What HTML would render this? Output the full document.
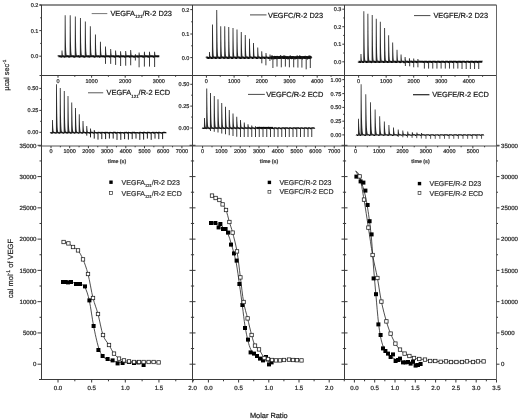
<!DOCTYPE html>
<html><head><meta charset="utf-8"><title>ITC</title>
<style>
html,body{margin:0;padding:0;background:#fff;}
body{width:520px;height:420px;overflow:hidden;font-family:"Liberation Sans",sans-serif;}
svg{display:block;}
text{font-family:"Liberation Sans",sans-serif;text-rendering:geometricPrecision;}
</style></head><body>
<svg width="520" height="420" viewBox="0 0 520 420">
<rect width="520" height="420" fill="#fff"/>
<defs><filter id="bl" x="0" y="0" width="100%" height="100%" filterUnits="userSpaceOnUse"><feGaussianBlur stdDeviation="0.35"/></filter></defs>
<g filter="url(#bl)"><path d="M58.40,56.30 L58.40,56.26 L58.80,56.23 L59.20,56.33 L59.60,56.21 L60.00,56.31 L60.40,56.27 L60.80,56.61 L61.20,56.70 L61.60,56.61 L62.00,56.29 L62.40,56.21 L62.80,56.22 L63.20,56.28 L63.60,56.37 L64.00,56.62 L64.40,56.64 L64.80,56.73 L65.20,56.39 L65.60,56.32 L66.00,56.28 L66.40,56.40 L66.80,56.21 L67.20,56.37 L67.60,56.26 L68.00,56.23 L68.40,56.22 L68.80,56.66 L69.20,56.76 L69.60,56.64 L70.00,56.32 L70.40,56.33 L70.80,56.27 L71.20,56.31 L71.60,56.21 L72.00,56.21 L72.40,56.24 L72.80,56.34 L73.20,56.29 L73.60,56.26 L74.00,56.72 L74.40,56.69 L74.80,56.66 L75.20,56.36 L75.60,56.34 L76.00,56.25 L76.40,56.31 L76.80,56.31 L77.20,56.38 L77.60,56.35 L78.00,56.26 L78.40,56.40 L78.80,56.22 L79.20,56.68 L79.60,56.75 L80.00,56.63 L80.40,56.30 L80.80,56.21 L81.20,56.33 L81.60,56.35 L82.00,56.31 L82.40,56.38 L82.80,56.26 L83.20,56.34 L83.60,56.32 L84.00,56.72 L84.40,56.69 L84.80,56.77 L85.20,56.39 L85.60,56.29 L86.00,56.33 L86.40,56.21 L86.80,56.34 L87.20,56.33 L87.60,56.40 L88.00,56.36 L88.40,56.26 L88.80,56.28 L89.20,56.73 L89.60,56.60 L90.00,56.29 L90.40,56.23 L90.80,56.22 L91.20,56.21 L91.60,56.35 L92.00,56.23 L92.40,56.25 L92.80,56.28 L93.20,56.37 L93.60,56.22 L94.00,56.69 L94.40,56.71 L94.80,56.78 L95.20,56.36 L95.60,56.37 L96.00,56.26 L96.40,56.28 L96.80,56.27 L97.20,56.38 L97.60,56.39 L98.00,56.23 L98.40,56.24 L98.80,56.25 L99.20,56.65 L99.60,56.70 L100.00,56.72 L100.40,56.25 L100.80,56.20 L101.20,56.28 L101.60,56.27 L102.00,56.31 L102.40,56.39 L102.80,56.34 L103.20,56.30 L103.60,56.32 L104.00,56.34 L104.40,56.61 L104.80,56.78 L105.20,56.36 L105.60,56.37 L106.00,56.36 L106.40,56.28 L106.80,56.28 L107.20,56.22 L107.60,56.33 L108.00,56.21 L108.40,56.21 L108.80,56.24 L109.20,56.23 L109.60,56.67 L110.00,56.61 L110.40,56.20 L110.80,56.23 L111.20,56.22 L111.60,56.27 L112.00,56.21 L112.40,56.37 L112.80,56.32 L113.20,56.23 L113.60,56.25 L114.00,56.27 L114.40,56.67 L114.80,56.62 L115.20,56.77 L115.60,56.40 L116.00,56.29 L116.40,56.30 L116.80,56.22 L117.20,56.22 L117.60,56.27 L118.00,56.25 L118.40,56.37 L118.80,56.23 L119.20,56.60 L119.60,56.79 L120.00,56.71 L120.40,56.23 L120.80,56.31 L121.20,56.21 L121.60,56.31 L122.00,56.40 L122.40,56.37 L122.80,56.34 L123.20,56.25 L123.60,56.27 L124.00,56.23 L124.40,56.75 L124.80,56.71 L125.20,56.76 L125.60,56.27 L126.00,56.24 L126.40,56.36 L126.80,56.40 L127.20,56.37 L127.60,56.36 L128.00,56.36 L128.40,56.35 L128.80,56.25 L129.20,56.30 L129.60,56.67 L130.00,56.61 L130.40,56.21 L130.80,56.26 L131.20,56.25 L131.60,56.34 L132.00,56.39 L132.40,56.29 L132.80,56.39 L133.20,56.40 L133.60,56.39 L134.00,56.67 L134.40,56.64 L134.80,56.65 L135.20,56.24 L135.60,56.24 L136.00,56.32 L136.40,56.38 L136.80,56.37 L137.20,56.30 L137.60,56.33 L138.00,56.76 L138.40,56.62 L138.80,56.33 L139.20,56.38 L139.60,56.36 L140.00,56.35 L140.40,56.30 L140.80,56.24 L141.20,56.36 L141.60,56.27 L142.00,56.36 L142.40,56.39 L142.80,56.28 L143.20,56.68 L143.60,56.79 L144.00,56.74 L144.40,56.23 L144.80,56.23 L145.20,56.23 L145.60,56.38 L146.00,56.36 L146.40,56.23 L146.80,56.37 L147.20,56.40 L147.60,56.33 L148.00,56.27 L148.40,56.71 L148.80,56.63 L149.20,56.20 L149.60,56.39 L150.00,56.33 L150.40,56.31 L150.80,56.39 L151.20,56.29 L151.60,56.37 L152.00,56.37 L152.40,56.24 L152.80,56.25 L153.20,56.66 L153.60,56.65 L154.00,56.72 L154.40,56.25 L154.80,56.28 L155.20,56.23 L155.60,56.38 L156.00,56.27 L156.40,56.29 L156.80,56.32 L157.20,56.38 L157.60,56.28 L158.00,56.38 L158.40,56.30 L158.80,56.31 L159.20,56.30 L159.30,56.30" fill="none" stroke="#111" stroke-width="2.0" stroke-linejoin="round"/><path d="M61.43,56.30 L61.58,50.50 L62.42,50.50 L62.57,52.78 L62.72,54.17 L62.88,55.01 L63.02,55.52 L63.17,55.82 L63.32,56.01 L63.47,56.12 L63.62,56.19 L63.77,56.24 L63.92,56.26 L64.08,56.28 L64.08,56.30 Z" fill="#2b2b2b"/><path d="M64.58,56.30 L64.73,15.20 L65.58,15.20 L65.73,31.37 L65.88,41.18 L66.03,47.13 L66.17,50.74 L66.33,52.93 L66.48,54.25 L66.62,55.06 L66.78,55.55 L66.92,55.84 L67.08,56.02 L67.23,56.13 L67.23,56.30 Z" fill="#2b2b2b"/><path d="M69.62,56.30 L69.78,15.20 L70.62,15.20 L70.78,31.37 L70.92,41.18 L71.08,47.13 L71.22,50.74 L71.38,52.93 L71.53,54.25 L71.67,55.06 L71.83,55.55 L71.97,55.84 L72.12,56.02 L72.28,56.13 L72.28,56.30 Z" fill="#2b2b2b"/><path d="M74.72,56.30 L74.88,16.60 L75.72,16.60 L75.88,32.22 L76.02,41.70 L76.17,47.44 L76.32,50.93 L76.47,53.04 L76.62,54.32 L76.77,55.10 L76.92,55.57 L77.07,55.86 L77.22,56.03 L77.38,56.14 L77.38,56.30 Z" fill="#2b2b2b"/><path d="M79.83,56.30 L79.98,18.10 L80.83,18.10 L80.98,33.13 L81.12,42.25 L81.28,47.78 L81.42,51.13 L81.58,53.16 L81.73,54.40 L81.88,55.15 L82.03,55.60 L82.17,55.88 L82.33,56.04 L82.48,56.14 L82.48,56.30 Z" fill="#2b2b2b"/><path d="M84.72,56.30 L84.88,21.50 L85.72,21.50 L85.88,35.19 L86.02,43.50 L86.17,48.54 L86.32,51.59 L86.47,53.44 L86.62,54.57 L86.77,55.25 L86.92,55.66 L87.07,55.91 L87.22,56.07 L87.38,56.16 L87.38,56.30 Z" fill="#2b2b2b"/><path d="M89.72,56.30 L89.88,26.20 L90.72,26.20 L90.88,38.04 L91.02,45.23 L91.17,49.58 L91.32,52.23 L91.47,53.83 L91.62,54.80 L91.77,55.39 L91.92,55.75 L92.07,55.97 L92.22,56.10 L92.38,56.18 L92.38,56.30 Z" fill="#2b2b2b"/><path d="M94.83,56.30 L94.98,34.60 L95.83,34.60 L95.98,43.14 L96.12,48.32 L96.28,51.46 L96.42,53.36 L96.58,54.52 L96.73,55.22 L96.88,55.64 L97.03,55.90 L97.17,56.06 L97.33,56.15 L97.48,56.21 L97.48,56.30 Z" fill="#2b2b2b"/><path d="M99.83,56.30 L99.98,41.70 L100.83,41.70 L100.98,47.44 L101.12,50.93 L101.28,53.04 L101.42,54.32 L101.58,55.10 L101.73,55.57 L101.88,55.86 L102.03,56.03 L102.17,56.14 L102.33,56.20 L102.48,56.24 L102.48,56.30 Z" fill="#2b2b2b"/><path d="M104.92,56.30 L105.08,46.40 L105.92,46.40 L106.08,50.30 L106.22,52.66 L106.38,54.09 L106.52,54.96 L106.67,55.49 L106.83,55.81 L106.97,56.00 L107.12,56.12 L107.27,56.19 L107.42,56.23 L107.58,56.26 L107.58,56.30 Z" fill="#2b2b2b"/><path d="M110.12,56.30 L110.28,49.10 L111.12,49.10 L111.28,51.93 L111.42,53.65 L111.58,54.69 L111.72,55.33 L111.88,55.71 L112.03,55.94 L112.17,56.08 L112.33,56.17 L112.47,56.22 L112.62,56.25 L112.78,56.27 L112.78,56.30 Z" fill="#2b2b2b"/><path d="M115.02,56.30 L115.17,50.50 L116.02,50.50 L116.17,52.78 L116.32,54.17 L116.47,55.01 L116.62,55.52 L116.77,55.82 L116.92,56.01 L117.07,56.12 L117.22,56.19 L117.37,56.24 L117.52,56.26 L117.67,56.28 L117.67,56.30 Z" fill="#2b2b2b"/><path d="M120.02,56.30 L120.17,51.20 L121.02,51.20 L121.17,53.21 L121.32,54.42 L121.47,55.16 L121.62,55.61 L121.77,55.88 L121.92,56.05 L122.07,56.15 L122.22,56.21 L122.37,56.24 L122.52,56.27 L122.67,56.28 L122.67,56.30 Z" fill="#2b2b2b"/><path d="M125.12,56.30 L125.28,50.90 L126.12,50.90 L126.28,53.02 L126.42,54.31 L126.58,55.10 L126.72,55.57 L126.88,55.86 L127.03,56.03 L127.17,56.14 L127.33,56.20 L127.47,56.24 L127.62,56.26 L127.78,56.28 L127.78,56.30 Z" fill="#2b2b2b"/><path d="M130.12,56.30 L130.27,50.10 L131.12,50.10 L131.28,52.54 L131.43,54.02 L131.57,54.92 L131.72,55.46 L131.88,55.79 L132.03,55.99 L132.18,56.11 L132.32,56.19 L132.47,56.23 L132.62,56.26 L132.78,56.27 L132.78,56.30 Z" fill="#2b2b2b"/><path d="M134.82,56.30 L134.97,54.20 L135.83,54.20 L135.98,55.03 L136.13,55.53 L136.28,55.83 L136.43,56.02 L136.58,56.13 L136.73,56.20 L136.88,56.24 L137.03,56.26 L137.18,56.28 L137.33,56.29 L137.48,56.29 L137.48,56.30 Z" fill="#2b2b2b"/><path d="M138.52,56.30 L138.67,52.50 L139.53,52.50 L139.68,54.00 L139.83,54.90 L139.97,55.45 L140.12,55.79 L140.28,55.99 L140.43,56.11 L140.58,56.19 L140.72,56.23 L140.88,56.26 L141.03,56.27 L141.18,56.28 L141.18,56.30 Z" fill="#2b2b2b"/><path d="M143.82,56.30 L143.97,51.80 L144.83,51.80 L144.98,53.57 L145.13,54.64 L145.28,55.30 L145.43,55.69 L145.58,55.93 L145.73,56.08 L145.88,56.16 L146.03,56.22 L146.18,56.25 L146.33,56.27 L146.48,56.28 L146.48,56.30 Z" fill="#2b2b2b"/><path d="M148.92,56.30 L149.07,51.80 L149.93,51.80 L150.08,53.57 L150.23,54.64 L150.38,55.30 L150.53,55.69 L150.68,55.93 L150.83,56.08 L150.98,56.16 L151.12,56.22 L151.28,56.25 L151.43,56.27 L151.58,56.28 L151.58,56.30 Z" fill="#2b2b2b"/><path d="M154.02,56.30 L154.17,51.80 L155.03,51.80 L155.18,53.57 L155.33,54.64 L155.47,55.30 L155.62,55.69 L155.78,55.93 L155.93,56.08 L156.08,56.16 L156.22,56.22 L156.38,56.25 L156.53,56.27 L156.68,56.28 L156.68,56.30 Z" fill="#2b2b2b"/><line x1="105.50" y1="56.30" x2="105.50" y2="63.90" stroke="#262626" stroke-width="0.9"/><line x1="110.70" y1="56.30" x2="110.70" y2="63.90" stroke="#262626" stroke-width="0.9"/><line x1="115.60" y1="56.30" x2="115.60" y2="64.90" stroke="#262626" stroke-width="0.9"/><line x1="120.60" y1="56.30" x2="120.60" y2="66.00" stroke="#262626" stroke-width="0.9"/><line x1="125.70" y1="56.30" x2="125.70" y2="65.70" stroke="#262626" stroke-width="0.9"/><line x1="130.70" y1="56.30" x2="130.70" y2="65.30" stroke="#262626" stroke-width="0.9"/><line x1="135.40" y1="56.30" x2="135.40" y2="60.50" stroke="#262626" stroke-width="0.9"/><line x1="139.10" y1="56.30" x2="139.10" y2="67.30" stroke="#262626" stroke-width="0.9"/><line x1="144.40" y1="56.30" x2="144.40" y2="66.60" stroke="#262626" stroke-width="0.9"/><line x1="149.50" y1="56.30" x2="149.50" y2="66.60" stroke="#262626" stroke-width="0.9"/><line x1="154.60" y1="56.30" x2="154.60" y2="67.00" stroke="#262626" stroke-width="0.9"/><path d="M206.50,57.60 L206.50,57.50 L206.90,57.59 L207.30,57.54 L207.70,57.50 L208.10,58.06 L208.50,57.93 L208.90,57.99 L209.30,57.65 L209.70,57.61 L210.10,57.57 L210.50,57.60 L210.90,57.61 L211.30,58.06 L211.70,57.92 L212.10,58.01 L212.50,57.55 L212.90,57.56 L213.30,57.65 L213.70,57.60 L214.10,57.61 L214.50,57.65 L214.90,57.68 L215.30,57.59 L215.70,58.02 L216.10,58.00 L216.50,57.60 L216.90,57.64 L217.30,57.59 L217.70,57.61 L218.10,57.60 L218.50,57.69 L218.90,57.64 L219.30,57.68 L219.70,58.09 L220.10,57.95 L220.50,57.61 L220.90,57.69 L221.30,57.67 L221.70,57.53 L222.10,57.52 L222.50,57.59 L222.90,57.51 L223.30,57.55 L223.70,57.91 L224.10,58.03 L224.50,57.66 L224.90,57.68 L225.30,57.53 L225.70,57.64 L226.10,57.63 L226.50,57.53 L226.90,57.68 L227.30,57.69 L227.70,57.94 L228.10,58.09 L228.50,57.58 L228.90,57.60 L229.30,57.70 L229.70,57.67 L230.10,57.53 L230.50,57.59 L230.90,57.60 L231.30,57.57 L231.70,57.94 L232.10,57.96 L232.50,58.04 L232.90,57.50 L233.30,57.61 L233.70,57.59 L234.10,57.50 L234.50,57.57 L234.90,57.62 L235.30,57.60 L235.70,57.91 L236.10,58.10 L236.50,58.06 L236.90,57.69 L237.30,57.52 L237.70,57.55 L238.10,57.51 L238.50,57.66 L238.90,57.55 L239.30,57.53 L239.70,57.58 L240.10,58.08 L240.50,58.06 L240.90,57.95 L241.30,57.53 L241.70,57.68 L242.10,57.61 L242.50,57.64 L242.90,57.52 L243.30,57.51 L243.70,57.64 L244.10,57.99 L244.50,57.91 L244.90,58.09 L245.30,57.63 L245.70,57.66 L246.10,57.52 L246.50,57.67 L246.90,57.51 L247.30,57.67 L247.70,57.59 L248.10,57.97 L248.50,58.01 L248.90,58.09 L249.30,57.55 L249.70,57.53 L250.10,57.61 L250.50,57.55 L250.90,57.52 L251.30,57.53 L251.70,57.51 L252.10,57.94 L252.50,57.96 L252.90,57.96 L253.30,57.65 L253.70,57.56 L254.10,57.60 L254.50,57.54 L254.90,57.57 L255.30,57.50 L255.70,57.55 L256.10,57.50 L256.50,58.05 L256.90,58.01 L257.30,57.94 L257.70,57.59 L258.10,57.69 L258.50,57.52 L258.90,57.66 L259.30,57.59 L259.70,57.60 L260.10,57.67 L260.50,57.98 L260.90,58.00 L261.30,58.04 L261.70,57.70 L262.10,57.57 L262.50,57.67 L262.90,57.64 L263.30,57.63 L263.70,57.58 L264.10,57.57 L264.50,57.91 L264.90,57.93 L265.30,57.91 L265.70,57.65 L266.10,57.55 L266.50,57.53 L266.90,57.52 L267.30,57.67 L267.70,57.67 L268.10,57.63 L268.50,57.96 L268.90,57.95 L269.30,57.96 L269.70,57.99 L270.10,57.53 L270.50,57.59 L270.90,57.55 L271.30,57.69 L271.70,58.09 L272.10,58.01 L272.50,57.95 L272.90,57.69 L273.30,57.56 L273.70,57.57 L274.10,57.50 L274.50,57.58 L274.90,57.59 L275.30,57.60 L275.70,57.94 L276.10,58.00 L276.50,57.90 L276.90,57.55 L277.30,57.52 L277.70,57.58 L278.10,57.51 L278.50,57.50 L278.90,57.56 L279.30,57.55 L279.70,57.62 L280.10,58.01 L280.50,58.05 L280.90,58.03 L281.30,57.64 L281.70,57.68 L282.10,57.58 L282.50,57.57 L282.90,57.70 L283.30,57.53 L283.70,57.64 L284.10,58.03 L284.50,57.91 L284.90,58.07 L285.30,57.68 L285.70,57.63 L286.10,57.65 L286.50,57.66 L286.90,57.53 L287.30,57.60 L287.70,57.60 L288.10,58.07 L288.50,58.06 L288.90,58.07 L289.30,57.62 L289.70,57.68 L290.10,57.64 L290.50,57.64 L290.90,57.55 L291.30,57.51 L291.70,57.53 L292.10,57.57 L292.50,57.92 L292.90,58.07 L293.30,58.01 L293.70,57.63 L294.10,57.63 L294.50,57.64 L294.90,57.60 L295.30,57.50 L295.70,57.66 L296.10,57.65 L296.50,57.60 L296.90,58.01 L297.30,58.03 L297.70,57.51 L298.10,57.65 L298.50,57.55 L298.90,57.51 L299.30,57.55 L299.70,57.65 L300.10,57.54 L300.50,57.65 L300.90,58.10 L301.30,58.00 L301.70,57.58 L302.10,57.60 L302.50,57.64 L302.90,57.65 L303.30,57.62 L303.70,57.63 L304.10,57.52 L304.50,57.53 L304.90,57.95 L305.30,58.05 L305.70,57.96 L306.10,57.61 L306.50,57.50 L306.90,57.51 L307.30,57.55 L307.70,57.63 L308.10,57.64 L308.50,57.64 L308.90,57.56 L309.30,58.00 L309.70,57.99 L310.10,57.59 L310.50,57.52 L310.90,57.68 L311.30,57.54 L311.30,57.60" fill="none" stroke="#111" stroke-width="2.0" stroke-linejoin="round"/><line x1="271.20" y1="57.40" x2="311.20" y2="57.40" stroke="#111" stroke-width="2.2"/><path d="M271.20,57.60 L271.20,59.31 L271.60,59.15 L272.00,55.47 L272.40,57.24 L272.80,58.68 L273.20,59.27 L273.60,57.20 L274.00,56.47 L274.40,56.24 L274.80,59.18 L275.20,56.24 L275.60,57.73 L276.00,55.97 L276.40,57.50 L276.80,59.21 L277.20,55.93 L277.60,58.68 L278.00,57.43 L278.40,58.95 L278.80,58.21 L279.20,56.33 L279.60,58.99 L280.00,57.34 L280.40,55.50 L280.80,55.41 L281.20,57.37 L281.60,57.20 L282.00,56.61 L282.40,55.96 L282.80,56.78 L283.20,56.66 L283.60,58.76 L284.00,55.41 L284.40,58.40 L284.80,58.76 L285.20,55.88 L285.60,59.11 L286.00,58.25 L286.40,59.01 L286.80,56.56 L287.20,56.89 L287.60,56.97 L288.00,59.40 L288.40,57.76 L288.80,56.84 L289.20,57.11 L289.60,56.50 L290.00,55.59 L290.40,55.81 L290.80,58.74 L291.20,56.54 L291.60,59.14 L292.00,56.40 L292.40,56.46 L292.80,57.44 L293.20,56.16 L293.60,56.89 L294.00,59.22 L294.40,58.94 L294.80,58.65 L295.20,57.92 L295.60,59.05 L296.00,59.16 L296.40,57.60 L296.80,58.28 L297.20,55.60 L297.60,58.33 L298.00,57.20 L298.40,58.41 L298.80,57.98 L299.20,56.54 L299.60,55.60 L300.00,59.11 L300.40,55.91 L300.80,57.29 L301.20,56.77 L301.60,56.59 L302.00,58.36 L302.40,59.31 L302.80,56.44 L303.20,58.02 L303.60,56.60 L304.00,57.63 L304.40,56.98 L304.80,56.07 L305.20,56.05 L305.60,56.23 L306.00,59.02 L306.40,57.39 L306.80,56.28 L307.20,59.03 L307.60,59.39 L308.00,57.20 L308.40,55.96 L308.80,56.17 L309.20,55.76 L309.60,56.77 L310.00,55.76 L310.40,56.36 L310.80,56.43 L311.20,57.68" fill="none" stroke="#111" stroke-width="0.9"/><path d="M208.92,57.60 L209.07,52.00 L209.93,52.00 L210.08,54.32 L210.23,55.68 L210.38,56.48 L210.53,56.94 L210.68,57.22 L210.83,57.37 L210.98,57.47 L211.12,57.52 L211.28,57.55 L211.43,57.57 L211.43,57.60 Z" fill="#2b2b2b"/><path d="M211.92,57.60 L212.07,24.50 L212.93,24.50 L213.08,38.23 L213.23,46.26 L213.38,50.96 L213.53,53.72 L213.68,55.33 L213.83,56.27 L213.98,56.82 L214.12,57.14 L214.28,57.33 L214.43,57.44 L214.43,57.60 Z" fill="#2b2b2b"/><path d="M216.17,57.60 L216.32,10.00 L217.18,10.00 L217.33,29.74 L217.48,41.30 L217.62,48.06 L217.78,52.02 L217.93,54.33 L218.08,55.69 L218.23,56.48 L218.38,56.94 L218.53,57.22 L218.68,57.38 L218.68,57.60 Z" fill="#2b2b2b"/><path d="M220.17,57.60 L220.32,26.25 L221.18,26.25 L221.33,39.25 L221.48,46.86 L221.62,51.32 L221.78,53.92 L221.93,55.45 L222.08,56.34 L222.23,56.86 L222.38,57.17 L222.53,57.35 L222.68,57.45 L222.68,57.60 Z" fill="#2b2b2b"/><path d="M224.17,57.60 L224.32,26.25 L225.18,26.25 L225.33,39.25 L225.48,46.86 L225.62,51.32 L225.78,53.92 L225.93,55.45 L226.08,56.34 L226.23,56.86 L226.38,57.17 L226.53,57.35 L226.68,57.45 L226.68,57.60 Z" fill="#2b2b2b"/><path d="M228.17,57.60 L228.32,27.00 L229.18,27.00 L229.33,39.69 L229.48,47.12 L229.62,51.47 L229.78,54.01 L229.93,55.50 L230.08,56.37 L230.23,56.88 L230.38,57.18 L230.53,57.35 L230.68,57.46 L230.68,57.60 Z" fill="#2b2b2b"/><path d="M232.42,57.60 L232.57,28.00 L233.43,28.00 L233.58,40.28 L233.73,47.46 L233.88,51.67 L234.03,54.13 L234.18,55.57 L234.33,56.41 L234.48,56.90 L234.62,57.19 L234.78,57.36 L234.93,57.46 L234.93,57.60 Z" fill="#2b2b2b"/><path d="M236.42,57.60 L236.57,29.50 L237.43,29.50 L237.58,41.15 L237.73,47.98 L237.88,51.97 L238.03,54.30 L238.18,55.67 L238.33,56.47 L238.48,56.94 L238.62,57.21 L238.78,57.37 L238.93,57.47 L238.93,57.60 Z" fill="#2b2b2b"/><path d="M240.67,57.60 L240.82,32.00 L241.68,32.00 L241.83,42.62 L241.98,48.83 L242.12,52.47 L242.28,54.60 L242.43,55.84 L242.58,56.57 L242.73,57.00 L242.88,57.25 L243.03,57.39 L243.18,57.48 L243.18,57.60 Z" fill="#2b2b2b"/><path d="M244.67,57.60 L244.82,35.00 L245.68,35.00 L245.83,44.37 L245.98,49.86 L246.12,53.07 L246.28,54.95 L246.43,56.05 L246.58,56.69 L246.73,57.07 L246.88,57.29 L247.03,57.42 L247.18,57.49 L247.18,57.60 Z" fill="#2b2b2b"/><path d="M248.92,57.60 L249.07,38.75 L249.93,38.75 L250.08,46.57 L250.23,51.14 L250.38,53.82 L250.53,55.39 L250.68,56.31 L250.83,56.84 L250.98,57.16 L251.12,57.34 L251.28,57.45 L251.43,57.51 L251.43,57.60 Z" fill="#2b2b2b"/><path d="M252.92,57.60 L253.07,43.00 L253.93,43.00 L254.08,49.06 L254.23,52.60 L254.38,54.67 L254.53,55.89 L254.68,56.60 L254.83,57.01 L254.98,57.26 L255.12,57.40 L255.28,57.48 L255.43,57.53 L255.43,57.60 Z" fill="#2b2b2b"/><path d="M257.18,57.60 L257.32,47.50 L258.18,47.50 L258.32,51.69 L258.48,54.14 L258.62,55.58 L258.78,56.42 L258.93,56.91 L259.07,57.19 L259.23,57.36 L259.38,57.46 L259.53,57.52 L259.68,57.55 L259.68,57.60 Z" fill="#2b2b2b"/><path d="M261.18,57.60 L261.32,51.25 L262.18,51.25 L262.32,53.88 L262.48,55.43 L262.62,56.33 L262.78,56.86 L262.93,57.16 L263.07,57.34 L263.23,57.45 L263.38,57.51 L263.53,57.55 L263.68,57.57 L263.68,57.60 Z" fill="#2b2b2b"/><path d="M265.43,57.60 L265.57,53.00 L266.43,53.00 L266.57,54.91 L266.73,56.02 L266.88,56.68 L267.03,57.06 L267.18,57.28 L267.32,57.42 L267.48,57.49 L267.62,57.54 L267.78,57.56 L267.93,57.58 L267.93,57.60 Z" fill="#2b2b2b"/><path d="M269.43,57.60 L269.57,54.50 L270.43,54.50 L270.57,55.79 L270.73,56.54 L270.88,56.98 L271.03,57.24 L271.18,57.39 L271.32,57.48 L271.48,57.53 L271.62,57.56 L271.78,57.58 L271.93,57.59 L271.93,57.60 Z" fill="#2b2b2b"/><line x1="261.80" y1="57.60" x2="261.80" y2="63.30" stroke="#262626" stroke-width="0.9"/><line x1="265.90" y1="57.60" x2="265.90" y2="65.30" stroke="#262626" stroke-width="0.9"/><line x1="269.90" y1="57.60" x2="269.90" y2="61.00" stroke="#262626" stroke-width="0.9"/><line x1="272.90" y1="57.60" x2="272.90" y2="68.00" stroke="#262626" stroke-width="0.9"/><line x1="277.00" y1="57.60" x2="277.00" y2="66.60" stroke="#262626" stroke-width="0.9"/><line x1="281.30" y1="57.60" x2="281.30" y2="67.30" stroke="#262626" stroke-width="0.9"/><line x1="285.40" y1="57.60" x2="285.40" y2="66.60" stroke="#262626" stroke-width="0.9"/><line x1="289.40" y1="57.60" x2="289.40" y2="67.30" stroke="#262626" stroke-width="0.9"/><line x1="293.70" y1="57.60" x2="293.70" y2="67.30" stroke="#262626" stroke-width="0.9"/><line x1="297.90" y1="57.60" x2="297.90" y2="67.60" stroke="#262626" stroke-width="0.9"/><line x1="301.90" y1="57.60" x2="301.90" y2="67.60" stroke="#262626" stroke-width="0.9"/><line x1="306.20" y1="57.60" x2="306.20" y2="69.30" stroke="#262626" stroke-width="0.9"/><line x1="310.30" y1="57.60" x2="310.30" y2="68.00" stroke="#262626" stroke-width="0.9"/><path d="M358.60,61.70 L358.60,61.78 L359.00,61.75 L359.40,61.68 L359.80,62.08 L360.20,62.10 L360.60,62.08 L361.00,61.67 L361.40,61.61 L361.80,61.66 L362.20,61.79 L362.60,62.03 L363.00,62.10 L363.40,62.13 L363.80,61.77 L364.20,61.64 L364.60,61.65 L365.00,61.65 L365.40,61.68 L365.80,61.69 L366.20,61.79 L366.60,62.17 L367.00,62.17 L367.40,62.00 L367.80,61.61 L368.20,61.74 L368.60,61.78 L369.00,61.69 L369.40,61.72 L369.80,61.60 L370.20,61.68 L370.60,61.79 L371.00,62.17 L371.40,62.17 L371.80,62.19 L372.20,61.65 L372.60,61.62 L373.00,61.63 L373.40,61.70 L373.80,61.74 L374.20,61.79 L374.60,61.74 L375.00,62.13 L375.40,62.15 L375.80,62.09 L376.20,61.71 L376.60,61.61 L377.00,61.76 L377.40,61.65 L377.80,61.78 L378.20,61.73 L378.60,61.66 L379.00,62.03 L379.40,62.05 L379.80,62.13 L380.20,61.74 L380.60,61.62 L381.00,61.61 L381.40,61.70 L381.80,61.72 L382.20,61.68 L382.60,61.64 L383.00,61.72 L383.40,62.00 L383.80,62.06 L384.20,62.09 L384.60,61.79 L385.00,61.73 L385.40,61.78 L385.80,61.70 L386.20,61.65 L386.60,61.65 L387.00,61.79 L387.40,62.14 L387.80,62.06 L388.20,62.00 L388.60,61.70 L389.00,61.73 L389.40,61.68 L389.80,61.65 L390.20,61.73 L390.60,61.79 L391.00,61.65 L391.40,62.01 L391.80,62.07 L392.20,62.08 L392.60,61.74 L393.00,61.64 L393.40,61.76 L393.80,61.75 L394.20,61.70 L394.60,61.64 L395.00,61.79 L395.40,61.66 L395.80,62.16 L396.20,62.05 L396.60,62.04 L397.00,61.75 L397.40,61.66 L397.80,61.79 L398.20,61.70 L398.60,61.64 L399.00,61.64 L399.40,61.68 L399.80,62.13 L400.20,62.19 L400.60,62.03 L401.00,61.68 L401.40,61.64 L401.80,61.79 L402.20,61.63 L402.60,61.61 L403.00,61.61 L403.40,61.68 L403.80,62.18 L404.20,62.18 L404.60,62.15 L405.00,62.20 L405.40,61.79 L405.80,61.67 L406.20,61.64 L406.60,61.79 L407.00,61.75 L407.40,61.61 L407.80,61.73 L408.20,62.08 L408.60,62.07 L409.00,62.07 L409.40,62.03 L409.80,61.60 L410.20,61.66 L410.60,61.67 L411.00,61.79 L411.40,61.62 L411.80,61.79 L412.20,61.64 L412.60,62.07 L413.00,62.16 L413.40,62.16 L413.80,61.69 L414.20,61.61 L414.60,61.69 L415.00,61.67 L415.40,61.78 L415.80,61.64 L416.20,61.67 L416.60,62.18 L417.00,62.01 L417.40,62.08 L417.80,61.76 L418.20,61.75 L418.60,61.61 L419.00,61.61 L419.40,61.61 L419.80,61.78 L420.20,61.65 L420.60,61.75 L421.00,61.78 L421.40,61.67 L421.80,61.65 L422.20,61.79 L422.60,61.72 L423.00,61.65 L423.40,62.14 L423.80,62.06 L424.20,61.66 L424.60,61.60 L425.00,61.75 L425.40,61.78 L425.80,61.73 L426.20,61.79 L426.60,61.60 L427.00,61.65 L427.40,62.10 L427.80,62.19 L428.20,62.19 L428.60,61.68 L429.00,61.65 L429.40,61.69 L429.80,61.70 L430.20,61.79 L430.60,61.64 L431.00,61.76 L431.40,62.15 L431.80,62.16 L432.20,62.15 L432.60,61.72 L433.00,61.67 L433.40,61.66 L433.80,61.67 L434.20,61.76 L434.60,61.62 L435.00,61.64 L435.40,61.75 L435.80,62.05 L436.20,62.01 L436.60,62.01 L437.00,61.71 L437.40,61.67 L437.80,61.80 L438.20,61.78 L438.60,61.80 L439.00,61.65 L439.40,61.62 L439.80,62.02 L440.20,62.10 L440.60,62.14 L441.00,61.69 L441.40,61.65 L441.80,61.68 L442.20,61.72 L442.60,61.73 L443.00,61.75 L443.40,61.77 L443.80,61.73 L444.20,62.02 L444.60,62.17 L445.00,62.06 L445.40,61.71 L445.80,61.67 L446.20,61.75 L446.60,61.64 L447.00,61.65 L447.40,61.65 L447.80,61.63 L448.20,62.18 L448.60,62.12 L449.00,62.07 L449.40,61.68 L449.80,61.80 L450.20,61.70 L450.60,61.65 L451.00,61.76 L451.40,61.73 L451.80,61.80 L452.20,61.62 L452.60,62.09 L453.00,62.16 L453.40,61.77 L453.80,61.78 L454.20,61.61 L454.60,61.66 L455.00,61.62 L455.40,61.64 L455.80,61.79 L456.20,61.72 L456.60,62.19 L457.00,62.07 L457.40,62.17 L457.80,61.69 L458.20,61.65 L458.60,61.76 L459.00,61.79 L459.40,61.62 L459.80,61.72 L460.20,61.72 L460.60,61.64 L461.00,62.07 L461.40,62.03 L461.80,61.64 L462.20,61.65 L462.60,61.72 L463.00,61.73 L463.40,61.64 L463.80,61.60 L464.20,61.67 L464.60,61.74 L465.00,62.04 L465.40,62.06 L465.80,62.04 L466.20,61.76 L466.60,61.71 L467.00,61.61 L467.40,61.62 L467.80,61.68 L468.20,61.71 L468.60,61.73 L469.00,62.02 L469.40,62.03 L469.80,62.14 L470.20,61.68 L470.60,61.66 L471.00,61.66 L471.40,61.79 L471.80,61.66 L472.20,61.71 L472.60,61.67 L473.00,61.68 L473.40,62.17 L473.80,62.20 L474.20,62.07 L474.60,61.64 L475.00,61.75 L475.40,61.64 L475.80,61.60 L476.20,61.78 L476.60,61.68 L477.00,61.76 L477.40,62.08 L477.80,62.18 L478.20,62.09 L478.60,61.63 L479.00,61.60 L479.40,61.71 L479.80,61.73 L480.20,61.78 L480.60,61.62 L481.00,61.72 L481.40,61.67 L481.80,61.70 L482.20,61.63 L482.30,61.70" fill="none" stroke="#111" stroke-width="1.9" stroke-linejoin="round"/><path d="M360.39,61.70 L360.54,54.03 L361.39,54.03 L361.54,57.21 L361.69,59.07 L361.84,60.16 L361.99,60.80 L362.14,61.17 L362.29,61.39 L362.44,61.52 L362.59,61.59 L362.74,61.64 L362.89,61.66 L362.89,61.70 Z" fill="#2b2b2b"/><path d="M363.27,61.70 L363.42,11.35 L364.27,11.35 L364.42,32.23 L364.57,44.45 L364.72,51.61 L364.87,55.79 L365.02,58.24 L365.17,59.68 L365.32,60.52 L365.47,61.01 L365.62,61.29 L365.77,61.46 L365.77,61.70 Z" fill="#2b2b2b"/><path d="M367.31,61.70 L367.46,13.65 L368.31,13.65 L368.46,33.58 L368.61,45.24 L368.76,52.07 L368.91,56.06 L369.06,58.40 L369.21,59.77 L369.36,60.57 L369.51,61.04 L369.66,61.31 L369.81,61.47 L369.81,61.70 Z" fill="#2b2b2b"/><path d="M371.63,61.70 L371.78,15.10 L372.63,15.10 L372.78,34.42 L372.93,45.74 L373.08,52.36 L373.23,56.23 L373.38,58.50 L373.53,59.83 L373.68,60.60 L373.83,61.06 L373.98,61.32 L374.13,61.48 L374.13,61.70 Z" fill="#2b2b2b"/><path d="M375.67,61.70 L375.82,18.84 L376.67,18.84 L376.82,36.62 L376.97,47.02 L377.12,53.11 L377.27,56.67 L377.42,58.76 L377.57,59.98 L377.72,60.69 L377.87,61.11 L378.02,61.35 L378.17,61.50 L378.17,61.70 Z" fill="#2b2b2b"/><path d="M379.71,61.70 L379.86,21.73 L380.71,21.73 L380.86,38.31 L381.01,48.01 L381.16,53.69 L381.31,57.01 L381.46,58.96 L381.61,60.09 L381.76,60.76 L381.91,61.15 L382.06,61.38 L382.21,61.51 L382.21,61.70 Z" fill="#2b2b2b"/><path d="M384.04,61.70 L384.19,28.07 L385.04,28.07 L385.19,42.02 L385.34,50.18 L385.49,54.96 L385.64,57.76 L385.79,59.39 L385.94,60.35 L386.09,60.91 L386.24,61.24 L386.39,61.43 L386.54,61.54 L386.54,61.70 Z" fill="#2b2b2b"/><path d="M388.08,61.70 L388.23,35.29 L389.08,35.29 L389.23,46.24 L389.38,52.65 L389.53,56.40 L389.68,58.60 L389.83,59.89 L389.98,60.64 L390.13,61.08 L390.28,61.34 L390.43,61.49 L390.58,61.58 L390.58,61.70 Z" fill="#2b2b2b"/><path d="M392.11,61.70 L392.26,42.50 L393.11,42.50 L393.26,50.46 L393.41,55.12 L393.56,57.85 L393.71,59.45 L393.86,60.38 L394.01,60.93 L394.16,61.25 L394.31,61.44 L394.46,61.55 L394.61,61.61 L394.61,61.70 Z" fill="#2b2b2b"/><path d="M396.44,61.70 L396.59,49.71 L397.44,49.71 L397.59,54.68 L397.74,57.59 L397.89,59.30 L398.04,60.29 L398.19,60.88 L398.34,61.22 L398.49,61.42 L398.64,61.53 L398.79,61.60 L398.94,61.64 L398.94,61.70 Z" fill="#2b2b2b"/><path d="M400.48,61.70 L400.63,54.61 L401.48,54.61 L401.63,57.55 L401.78,59.27 L401.93,60.28 L402.08,60.87 L402.23,61.21 L402.38,61.42 L402.53,61.53 L402.68,61.60 L402.83,61.64 L402.98,61.67 L402.98,61.70 Z" fill="#2b2b2b"/><path d="M404.52,61.70 L404.67,56.92 L405.52,56.92 L405.67,58.90 L405.82,60.06 L405.97,60.74 L406.12,61.14 L406.27,61.37 L406.42,61.51 L406.57,61.59 L406.72,61.63 L406.87,61.66 L407.02,61.68 L407.02,61.70 Z" fill="#2b2b2b"/><path d="M408.84,61.70 L408.99,58.36 L409.84,58.36 L409.99,59.75 L410.14,60.56 L410.29,61.03 L410.44,61.31 L410.59,61.47 L410.74,61.57 L410.89,61.62 L411.04,61.65 L411.19,61.67 L411.34,61.68 L411.34,61.70 Z" fill="#2b2b2b"/><path d="M413.12,61.70 L413.27,58.60 L414.12,58.60 L414.27,59.89 L414.43,60.64 L414.57,61.08 L414.73,61.34 L414.88,61.49 L415.02,61.58 L415.18,61.63 L415.32,61.66 L415.48,61.68 L415.62,61.69 L415.62,61.70 Z" fill="#2b2b2b"/><path d="M417.32,61.70 L417.47,59.00 L418.32,59.00 L418.47,60.12 L418.62,60.78 L418.77,61.16 L418.93,61.38 L419.07,61.51 L419.22,61.59 L419.38,61.64 L419.52,61.66 L419.68,61.68 L419.82,61.69 L419.82,61.70 Z" fill="#2b2b2b"/><line x1="405.40" y1="61.70" x2="405.40" y2="66.00" stroke="#262626" stroke-width="0.9"/><line x1="409.70" y1="61.70" x2="409.70" y2="66.30" stroke="#262626" stroke-width="0.9"/><line x1="413.70" y1="61.70" x2="413.70" y2="67.30" stroke="#262626" stroke-width="0.9"/><line x1="417.90" y1="61.70" x2="417.90" y2="67.30" stroke="#262626" stroke-width="0.9"/><line x1="424.40" y1="61.70" x2="424.40" y2="68.60" stroke="#262626" stroke-width="0.9"/><line x1="428.58" y1="61.70" x2="428.58" y2="68.60" stroke="#262626" stroke-width="0.9"/><line x1="432.76" y1="61.70" x2="432.76" y2="68.60" stroke="#262626" stroke-width="0.9"/><line x1="436.94" y1="61.70" x2="436.94" y2="68.60" stroke="#262626" stroke-width="0.9"/><line x1="441.12" y1="61.70" x2="441.12" y2="68.60" stroke="#262626" stroke-width="0.9"/><line x1="445.30" y1="61.70" x2="445.30" y2="68.60" stroke="#262626" stroke-width="0.9"/><line x1="449.48" y1="61.70" x2="449.48" y2="68.60" stroke="#262626" stroke-width="0.9"/><line x1="453.66" y1="61.70" x2="453.66" y2="68.60" stroke="#262626" stroke-width="0.9"/><line x1="457.84" y1="61.70" x2="457.84" y2="68.60" stroke="#262626" stroke-width="0.9"/><line x1="462.02" y1="61.70" x2="462.02" y2="69.00" stroke="#262626" stroke-width="0.9"/><line x1="466.20" y1="61.70" x2="466.20" y2="69.00" stroke="#262626" stroke-width="0.9"/><line x1="470.38" y1="61.70" x2="470.38" y2="69.00" stroke="#262626" stroke-width="0.9"/><line x1="474.56" y1="61.70" x2="474.56" y2="69.00" stroke="#262626" stroke-width="0.9"/><line x1="478.74" y1="61.70" x2="478.74" y2="69.00" stroke="#262626" stroke-width="0.9"/><path d="M50.50,132.60 L50.50,132.62 L50.90,132.62 L51.30,132.94 L51.70,132.99 L52.10,133.01 L52.50,132.51 L52.90,132.69 L53.30,132.53 L53.70,132.57 L54.10,132.53 L54.50,132.69 L54.90,132.66 L55.30,132.94 L55.70,133.08 L56.10,133.07 L56.50,132.63 L56.90,132.63 L57.30,132.56 L57.70,132.58 L58.10,132.59 L58.50,132.67 L58.90,133.06 L59.30,133.03 L59.70,132.96 L60.10,132.55 L60.50,132.58 L60.90,132.57 L61.30,132.60 L61.70,132.54 L62.10,132.50 L62.50,132.70 L62.90,132.99 L63.30,132.99 L63.70,133.02 L64.10,132.66 L64.50,132.67 L64.90,132.66 L65.30,132.58 L65.70,132.51 L66.10,132.57 L66.50,132.57 L66.90,133.06 L67.30,133.00 L67.70,132.63 L68.10,132.51 L68.50,132.53 L68.90,132.68 L69.30,132.56 L69.70,132.64 L70.10,132.52 L70.50,133.05 L70.90,133.08 L71.30,133.03 L71.70,132.66 L72.10,132.51 L72.50,132.51 L72.90,132.62 L73.30,132.64 L73.70,132.52 L74.10,132.93 L74.50,133.08 L74.90,132.96 L75.30,132.66 L75.70,132.66 L76.10,132.64 L76.50,132.64 L76.90,132.54 L77.30,132.67 L77.70,132.62 L78.10,132.95 L78.50,132.96 L78.90,133.02 L79.30,132.68 L79.70,132.59 L80.10,132.55 L80.50,132.69 L80.90,132.60 L81.30,132.62 L81.70,133.02 L82.10,132.95 L82.50,132.97 L82.90,132.54 L83.30,132.58 L83.70,132.63 L84.10,132.56 L84.50,132.57 L84.90,132.58 L85.30,132.66 L85.70,132.95 L86.10,133.05 L86.50,132.51 L86.90,132.67 L87.30,132.69 L87.70,132.59 L88.10,132.60 L88.50,132.64 L88.90,132.68 L89.30,132.95 L89.70,133.01 L90.10,133.07 L90.50,132.65 L90.90,132.57 L91.30,132.58 L91.70,132.57 L92.10,132.53 L92.50,132.57 L92.90,132.92 L93.30,132.95 L93.70,133.02 L94.10,132.69 L94.50,132.56 L94.90,132.60 L95.30,132.56 L95.70,132.69 L96.10,132.67 L96.50,132.69 L96.90,133.08 L97.30,133.05 L97.70,132.65 L98.10,132.54 L98.50,132.56 L98.90,132.63 L99.30,132.58 L99.70,132.57 L100.10,132.51 L100.50,133.00 L100.90,133.02 L101.30,132.91 L101.70,132.51 L102.10,132.61 L102.50,132.56 L102.90,132.60 L103.30,132.61 L103.70,132.58 L104.10,132.56 L104.50,132.93 L104.90,132.97 L105.30,132.67 L105.70,132.53 L106.10,132.50 L106.50,132.66 L106.90,132.64 L107.30,132.59 L107.70,132.51 L108.10,132.93 L108.50,133.03 L108.90,132.95 L109.30,132.66 L109.70,132.69 L110.10,132.51 L110.50,132.66 L110.90,132.68 L111.30,132.62 L111.70,132.62 L112.10,133.02 L112.50,133.00 L112.90,132.60 L113.30,132.53 L113.70,132.50 L114.10,132.51 L114.50,132.51 L114.90,132.54 L115.30,132.53 L115.70,133.08 L116.10,132.92 L116.50,133.02 L116.90,132.63 L117.30,132.54 L117.70,132.58 L118.10,132.60 L118.50,132.63 L118.90,132.63 L119.30,132.58 L119.70,133.02 L120.10,133.00 L120.50,132.51 L120.90,132.63 L121.30,132.70 L121.70,132.64 L122.10,132.60 L122.50,132.61 L122.90,132.58 L123.30,132.99 L123.70,133.08 L124.10,132.92 L124.50,132.63 L124.90,132.54 L125.30,132.70 L125.70,132.55 L126.10,132.63 L126.50,132.52 L126.90,132.68 L127.30,133.09 L127.70,133.09 L128.10,132.55 L128.50,132.51 L128.90,132.63 L129.30,132.64 L129.70,132.64 L130.10,132.68 L130.50,132.69 L130.90,132.96 L131.30,133.09 L131.70,133.08 L132.10,132.52 L132.50,132.60 L132.90,132.53 L133.30,132.68 L133.70,132.67 L134.10,132.54 L134.50,132.53 L134.90,133.08 L135.30,132.94 L135.70,132.58 L136.10,132.62 L136.50,132.58 L136.90,132.67 L137.30,132.68 L137.70,132.70 L138.10,132.67 L138.50,133.01 L138.90,132.99 L139.30,133.01 L139.70,132.50 L140.10,132.51 L140.50,132.69 L140.90,132.55 L141.30,132.68 L141.70,132.66 L142.10,132.58 L142.50,133.02 L142.90,133.01 L143.30,132.53 L143.70,132.51 L144.10,132.52 L144.50,132.62 L144.90,132.53 L145.30,132.70 L145.70,132.64 L146.10,132.91 L146.50,132.93 L146.90,133.03 L147.30,132.51 L147.70,132.51 L148.10,132.51 L148.50,132.67 L148.90,132.65 L149.30,132.54 L149.70,132.69 L150.10,133.01 L150.50,133.03 L150.90,132.68 L151.30,132.65 L151.70,132.64 L152.10,132.58 L152.50,132.55 L152.90,132.54 L153.30,132.51 L153.70,133.09 L154.10,133.08 L154.50,133.05 L154.90,132.52 L155.30,132.65 L155.70,132.63 L156.10,132.60 L156.50,132.53 L156.90,132.66 L157.30,132.63 L157.70,132.96 L158.10,132.97 L158.50,132.55 L158.90,132.57 L159.30,132.69 L159.70,132.51 L160.10,132.65 L160.50,132.68 L160.90,132.65 L161.30,133.02 L161.70,133.00 L162.10,132.96 L162.50,132.65 L162.90,132.66 L163.30,132.51 L163.70,132.60 L164.10,132.52 L164.50,132.59 L164.90,132.51 L165.30,132.61 L165.70,132.64 L166.10,132.67 L166.40,132.60" fill="none" stroke="#111" stroke-width="1.4" stroke-linejoin="round"/><path d="M51.93,132.60 L52.08,120.00 L52.92,120.00 L53.07,124.72 L53.22,127.67 L53.38,129.51 L53.52,130.67 L53.67,131.39 L53.82,131.84 L53.97,132.13 L54.12,132.30 L54.27,132.41 L54.42,132.48 L54.57,132.53 L54.57,132.60 Z" fill="#2b2b2b"/><path d="M55.93,132.60 L56.08,84.25 L56.92,84.25 L57.07,102.34 L57.22,113.67 L57.38,120.75 L57.52,125.19 L57.67,127.96 L57.82,129.70 L57.97,130.78 L58.12,131.46 L58.27,131.89 L58.42,132.15 L58.57,132.32 L58.57,132.60 Z" fill="#2b2b2b"/><path d="M59.68,132.60 L59.83,88.00 L60.67,88.00 L60.82,104.69 L60.97,115.13 L61.12,121.67 L61.27,125.76 L61.42,128.32 L61.57,129.92 L61.72,130.92 L61.88,131.55 L62.02,131.94 L62.17,132.19 L62.32,132.34 L62.32,132.60 Z" fill="#2b2b2b"/><path d="M63.68,132.60 L63.83,91.00 L64.67,91.00 L64.83,106.57 L64.97,116.31 L65.12,122.41 L65.27,126.22 L65.42,128.61 L65.58,130.10 L65.72,131.04 L65.88,131.62 L66.02,131.99 L66.17,132.22 L66.33,132.36 L66.33,132.60 Z" fill="#2b2b2b"/><path d="M67.42,132.60 L67.58,96.00 L68.42,96.00 L68.58,109.70 L68.72,118.27 L68.88,123.63 L69.02,126.99 L69.17,129.09 L69.33,130.40 L69.47,131.22 L69.62,131.74 L69.77,132.06 L69.92,132.26 L70.08,132.39 L70.08,132.60 Z" fill="#2b2b2b"/><path d="M71.17,132.60 L71.33,102.50 L72.17,102.50 L72.33,113.76 L72.47,120.81 L72.62,125.22 L72.77,127.98 L72.92,129.71 L73.08,130.79 L73.22,131.47 L73.38,131.89 L73.52,132.16 L73.67,132.32 L73.83,132.43 L73.83,132.60 Z" fill="#2b2b2b"/><path d="M74.92,132.60 L75.08,108.00 L75.92,108.00 L76.08,117.21 L76.22,122.97 L76.38,126.57 L76.52,128.83 L76.67,130.24 L76.83,131.12 L76.97,131.68 L77.12,132.02 L77.27,132.24 L77.42,132.37 L77.58,132.46 L77.58,132.60 Z" fill="#2b2b2b"/><path d="M78.67,132.60 L78.83,114.25 L79.67,114.25 L79.83,121.12 L79.97,125.41 L80.12,128.10 L80.27,129.79 L80.42,130.84 L80.58,131.50 L80.72,131.91 L80.88,132.17 L81.02,132.33 L81.17,132.43 L81.33,132.49 L81.33,132.60 Z" fill="#2b2b2b"/><path d="M82.42,132.60 L82.58,121.00 L83.42,121.00 L83.58,125.34 L83.72,128.06 L83.88,129.76 L84.02,130.82 L84.17,131.49 L84.33,131.90 L84.47,132.16 L84.62,132.33 L84.77,132.43 L84.92,132.49 L85.08,132.53 L85.08,132.60 Z" fill="#2b2b2b"/><path d="M86.17,132.60 L86.33,126.00 L87.17,126.00 L87.33,128.47 L87.47,130.02 L87.62,130.98 L87.77,131.59 L87.92,131.97 L88.08,132.20 L88.22,132.35 L88.38,132.44 L88.52,132.50 L88.67,132.54 L88.83,132.56 L88.83,132.60 Z" fill="#2b2b2b"/><path d="M89.92,132.60 L90.08,128.50 L90.92,128.50 L91.08,130.03 L91.22,130.99 L91.38,131.60 L91.52,131.97 L91.67,132.21 L91.83,132.35 L91.97,132.45 L92.12,132.50 L92.27,132.54 L92.42,132.56 L92.58,132.58 L92.58,132.60 Z" fill="#2b2b2b"/><path d="M93.67,132.60 L93.83,130.00 L94.67,130.00 L94.83,130.97 L94.97,131.58 L95.12,131.96 L95.27,132.20 L95.42,132.35 L95.58,132.44 L95.72,132.50 L95.88,132.54 L96.02,132.56 L96.17,132.58 L96.33,132.59 L96.33,132.60 Z" fill="#2b2b2b"/><line x1="86.75" y1="132.60" x2="86.75" y2="135.60" stroke="#1e1e1e" stroke-width="1.0"/><line x1="90.50" y1="132.60" x2="90.50" y2="137.35" stroke="#1e1e1e" stroke-width="1.0"/><line x1="94.25" y1="132.60" x2="94.25" y2="138.60" stroke="#1e1e1e" stroke-width="1.0"/><line x1="98.00" y1="132.60" x2="98.00" y2="139.60" stroke="#1e1e1e" stroke-width="1.0"/><line x1="101.80" y1="132.60" x2="101.80" y2="139.10" stroke="#1e1e1e" stroke-width="1.0"/><line x1="105.60" y1="132.60" x2="105.60" y2="139.10" stroke="#1e1e1e" stroke-width="1.0"/><line x1="109.40" y1="132.60" x2="109.40" y2="138.60" stroke="#1e1e1e" stroke-width="1.0"/><line x1="113.20" y1="132.60" x2="113.20" y2="138.60" stroke="#1e1e1e" stroke-width="1.0"/><line x1="117.00" y1="132.60" x2="117.00" y2="139.85" stroke="#1e1e1e" stroke-width="1.0"/><line x1="120.80" y1="132.60" x2="120.80" y2="139.85" stroke="#1e1e1e" stroke-width="1.0"/><line x1="124.60" y1="132.60" x2="124.60" y2="139.10" stroke="#1e1e1e" stroke-width="1.0"/><line x1="128.40" y1="132.60" x2="128.40" y2="139.60" stroke="#1e1e1e" stroke-width="1.0"/><line x1="132.20" y1="132.60" x2="132.20" y2="139.10" stroke="#1e1e1e" stroke-width="1.0"/><line x1="136.00" y1="132.60" x2="136.00" y2="138.60" stroke="#1e1e1e" stroke-width="1.0"/><line x1="139.80" y1="132.60" x2="139.80" y2="139.85" stroke="#1e1e1e" stroke-width="1.0"/><line x1="143.60" y1="132.60" x2="143.60" y2="139.60" stroke="#1e1e1e" stroke-width="1.0"/><line x1="147.40" y1="132.60" x2="147.40" y2="138.60" stroke="#1e1e1e" stroke-width="1.0"/><line x1="151.20" y1="132.60" x2="151.20" y2="139.85" stroke="#1e1e1e" stroke-width="1.0"/><line x1="155.00" y1="132.60" x2="155.00" y2="138.60" stroke="#1e1e1e" stroke-width="1.0"/><line x1="158.80" y1="132.60" x2="158.80" y2="139.10" stroke="#1e1e1e" stroke-width="1.0"/><line x1="162.60" y1="132.60" x2="162.60" y2="139.10" stroke="#1e1e1e" stroke-width="1.0"/><path d="M202.50,128.00 L202.50,128.01 L202.90,127.96 L203.30,128.39 L203.70,128.40 L204.10,128.36 L204.50,128.05 L204.90,127.91 L205.30,127.97 L205.70,128.32 L206.10,128.44 L206.50,128.07 L206.90,128.09 L207.30,128.02 L207.70,128.09 L208.10,128.00 L208.50,128.02 L208.90,127.93 L209.30,128.46 L209.70,128.49 L210.10,128.35 L210.50,127.93 L210.90,128.09 L211.30,128.05 L211.70,128.00 L212.10,128.10 L212.50,128.01 L212.90,128.32 L213.30,128.37 L213.70,128.32 L214.10,128.09 L214.50,128.08 L214.90,128.05 L215.30,127.98 L215.70,128.03 L216.10,127.97 L216.50,127.96 L216.90,128.39 L217.30,128.41 L217.70,127.93 L218.10,128.10 L218.50,128.03 L218.90,128.09 L219.30,127.93 L219.70,128.02 L220.10,128.04 L220.50,128.42 L220.90,128.31 L221.30,128.42 L221.70,128.00 L222.10,128.07 L222.50,127.99 L222.90,128.01 L223.30,127.96 L223.70,127.99 L224.10,128.44 L224.50,128.35 L224.90,128.35 L225.30,127.97 L225.70,128.03 L226.10,128.04 L226.50,128.00 L226.90,127.95 L227.30,128.05 L227.70,128.07 L228.10,128.42 L228.50,128.44 L228.90,128.49 L229.30,128.04 L229.70,128.02 L230.10,127.97 L230.50,127.95 L230.90,128.09 L231.30,127.95 L231.70,128.49 L232.10,128.50 L232.50,128.33 L232.90,128.03 L233.30,127.94 L233.70,127.93 L234.10,127.93 L234.50,127.96 L234.90,127.96 L235.30,127.95 L235.70,128.32 L236.10,128.48 L236.50,127.96 L236.90,128.08 L237.30,127.99 L237.70,127.90 L238.10,128.07 L238.50,127.99 L238.90,127.94 L239.30,128.50 L239.70,128.36 L240.10,128.30 L240.50,127.95 L240.90,128.05 L241.30,127.90 L241.70,127.95 L242.10,128.07 L242.50,128.04 L242.90,128.42 L243.30,128.43 L243.70,128.47 L244.10,128.03 L244.50,128.03 L244.90,128.08 L245.30,128.03 L245.70,128.02 L246.10,127.95 L246.50,127.94 L246.90,128.32 L247.30,128.39 L247.70,127.95 L248.10,128.04 L248.50,128.08 L248.90,127.95 L249.30,127.98 L249.70,128.04 L250.10,127.93 L250.50,128.47 L250.90,128.40 L251.30,128.30 L251.70,128.07 L252.10,128.00 L252.50,128.03 L252.90,128.07 L253.30,128.08 L253.70,127.97 L254.10,128.30 L254.50,128.47 L254.90,128.48 L255.30,127.92 L255.70,127.95 L256.10,127.94 L256.50,128.04 L256.90,128.09 L257.30,127.94 L257.70,127.97 L258.10,128.47 L258.50,128.39 L258.90,128.34 L259.30,128.00 L259.70,127.90 L260.10,128.06 L260.50,127.97 L260.90,127.97 L261.30,128.05 L261.70,128.39 L262.10,128.50 L262.50,128.34 L262.90,128.00 L263.30,128.09 L263.70,128.05 L264.10,128.02 L264.50,128.03 L264.90,127.95 L265.30,127.98 L265.70,128.31 L266.10,128.32 L266.50,128.08 L266.90,128.03 L267.30,128.03 L267.70,128.02 L268.10,127.92 L268.50,127.96 L268.90,127.98 L269.30,128.49 L269.70,128.49 L270.10,128.50 L270.50,128.09 L270.90,127.99 L271.30,127.93 L271.70,128.09 L272.10,127.91 L272.50,128.06 L272.90,128.34 L273.30,128.43 L273.70,128.44 L274.10,128.06 L274.50,127.93 L274.90,128.03 L275.30,128.07 L275.70,128.06 L276.10,127.98 L276.50,128.10 L276.90,128.45 L277.30,128.43 L277.70,128.46 L278.10,127.99 L278.50,128.06 L278.90,127.95 L279.30,128.04 L279.70,128.04 L280.10,128.10 L280.50,128.44 L280.90,128.40 L281.30,128.46 L281.70,128.06 L282.10,127.97 L282.50,128.03 L282.90,127.96 L283.30,128.00 L283.70,128.02 L284.10,127.92 L284.50,128.48 L284.90,128.33 L285.30,127.96 L285.70,127.98 L286.10,127.92 L286.50,128.01 L286.90,127.96 L287.30,128.09 L287.70,128.01 L288.10,128.37 L288.50,128.42 L288.90,128.43 L289.30,127.94 L289.70,127.91 L290.10,127.96 L290.50,128.02 L290.90,128.02 L291.30,128.07 L291.70,128.34 L292.10,128.39 L292.50,128.46 L292.90,127.94 L293.30,127.98 L293.70,128.01 L294.10,128.02 L294.50,128.04 L294.90,128.10 L295.30,127.92 L295.70,128.48 L296.10,128.41 L296.50,128.03 L296.90,127.96 L297.30,128.00 L297.70,127.94 L298.10,127.92 L298.50,128.07 L298.90,128.03 L299.30,128.32 L299.70,128.32 L300.10,128.38 L300.50,128.07 L300.90,127.99 L301.30,128.01 L301.70,128.00 L302.10,128.08 L302.50,128.04 L302.90,128.35 L303.30,128.33 L303.70,128.42 L304.10,128.05 L304.50,127.93 L304.90,127.96 L305.30,128.04 L305.70,128.00 L306.10,127.96 L306.50,127.99 L306.90,128.39 L307.30,128.50 L307.70,128.44 L308.10,127.94 L308.50,127.97 L308.90,128.03 L309.30,127.90 L309.70,127.91 L310.10,128.05 L310.50,128.50 L310.90,128.46 L311.30,128.32 L311.70,128.00 L312.10,128.05 L312.50,127.93 L312.90,127.94 L313.30,127.98 L313.70,127.93 L314.10,127.92 L314.50,128.03 L314.50,128.00" fill="none" stroke="#111" stroke-width="1.4" stroke-linejoin="round"/><line x1="257.00" y1="127.80" x2="273.00" y2="127.80" stroke="#111" stroke-width="1.8"/><path d="M257.00,128.00 L257.00,127.51 L257.40,128.30 L257.80,127.90 L258.20,128.54 L258.60,127.41 L259.00,127.52 L259.40,127.35 L259.80,126.99 L260.20,127.42 L260.60,127.54 L261.00,127.79 L261.40,127.50 L261.80,128.67 L262.20,128.47 L262.60,127.52 L263.00,127.27 L263.40,127.79 L263.80,127.11 L264.20,127.25 L264.60,128.18 L265.00,127.13 L265.40,128.65 L265.80,127.06 L266.20,128.69 L266.60,127.62 L267.00,127.90 L267.40,127.63 L267.80,127.93 L268.20,127.62 L268.60,127.10 L269.00,126.98 L269.40,128.38 L269.80,127.76 L270.20,128.28 L270.60,127.01 L271.00,127.80 L271.40,127.88 L271.80,127.58 L272.20,127.16 L272.60,128.11 L273.00,128.14" fill="none" stroke="#111" stroke-width="0.9"/><path d="M203.92,128.00 L204.07,118.00 L204.93,118.00 L205.08,121.74 L205.23,124.08 L205.38,125.55 L205.53,126.47 L205.68,127.04 L205.83,127.40 L205.98,127.62 L206.12,127.76 L206.28,127.85 L206.43,127.91 L206.58,127.94 L206.58,128.00 Z" fill="#2b2b2b"/><path d="M206.17,128.00 L206.32,88.50 L207.18,88.50 L207.33,103.28 L207.48,112.53 L207.62,118.32 L207.78,121.94 L207.93,124.21 L208.08,125.63 L208.23,126.52 L208.38,127.07 L208.53,127.42 L208.68,127.64 L208.83,127.77 L208.83,128.00 Z" fill="#2b2b2b"/><path d="M209.92,128.00 L210.07,93.00 L210.93,93.00 L211.08,106.10 L211.23,114.29 L211.38,119.42 L211.53,122.63 L211.68,124.64 L211.83,125.90 L211.98,126.68 L212.12,127.18 L212.28,127.48 L212.43,127.68 L212.58,127.80 L212.58,128.00 Z" fill="#2b2b2b"/><path d="M213.67,128.00 L213.82,96.00 L214.68,96.00 L214.83,107.97 L214.98,115.47 L215.12,120.16 L215.28,123.09 L215.43,124.93 L215.58,126.08 L215.73,126.80 L215.88,127.25 L216.03,127.53 L216.18,127.71 L216.33,127.82 L216.33,128.00 Z" fill="#2b2b2b"/><path d="M217.42,128.00 L217.57,99.25 L218.43,99.25 L218.58,110.01 L218.73,116.74 L218.88,120.95 L219.03,123.59 L219.18,125.24 L219.33,126.27 L219.48,126.92 L219.62,127.32 L219.78,127.58 L219.93,127.74 L220.08,127.83 L220.08,128.00 Z" fill="#2b2b2b"/><path d="M221.17,128.00 L221.32,103.00 L222.18,103.00 L222.33,112.36 L222.48,118.21 L222.62,121.87 L222.78,124.17 L222.93,125.60 L223.08,126.50 L223.23,127.06 L223.38,127.41 L223.53,127.63 L223.68,127.77 L223.83,127.86 L223.83,128.00 Z" fill="#2b2b2b"/><path d="M224.92,128.00 L225.07,106.75 L225.93,106.75 L226.08,114.70 L226.23,119.68 L226.38,122.79 L226.53,124.74 L226.68,125.96 L226.83,126.72 L226.98,127.20 L227.12,127.50 L227.28,127.69 L227.43,127.80 L227.58,127.88 L227.58,128.00 Z" fill="#2b2b2b"/><path d="M228.67,128.00 L228.82,110.00 L229.68,110.00 L229.83,116.74 L229.98,120.95 L230.12,123.59 L230.28,125.24 L230.43,126.27 L230.58,126.92 L230.73,127.32 L230.88,127.58 L231.03,127.74 L231.18,127.83 L231.33,127.90 L231.33,128.00 Z" fill="#2b2b2b"/><path d="M232.42,128.00 L232.57,113.50 L233.43,113.50 L233.58,118.93 L233.73,122.32 L233.88,124.45 L234.03,125.78 L234.18,126.61 L234.33,127.13 L234.48,127.46 L234.62,127.66 L234.78,127.79 L234.93,127.87 L235.08,127.92 L235.08,128.00 Z" fill="#2b2b2b"/><path d="M236.17,128.00 L236.32,116.75 L237.18,116.75 L237.33,120.96 L237.48,123.59 L237.62,125.24 L237.78,126.27 L237.93,126.92 L238.08,127.32 L238.23,127.58 L238.38,127.74 L238.53,127.83 L238.68,127.90 L238.83,127.94 L238.83,128.00 Z" fill="#2b2b2b"/><path d="M239.92,128.00 L240.07,120.00 L240.93,120.00 L241.08,122.99 L241.23,124.87 L241.38,126.04 L241.53,126.77 L241.68,127.23 L241.83,127.52 L241.98,127.70 L242.12,127.81 L242.28,127.88 L242.43,127.93 L242.58,127.95 L242.58,128.00 Z" fill="#2b2b2b"/><path d="M243.67,128.00 L243.82,122.50 L244.68,122.50 L244.83,124.56 L244.98,125.85 L245.12,126.65 L245.28,127.16 L245.43,127.47 L245.58,127.67 L245.73,127.79 L245.88,127.87 L246.03,127.92 L246.18,127.95 L246.33,127.97 L246.33,128.00 Z" fill="#2b2b2b"/><path d="M247.42,128.00 L247.57,124.25 L248.43,124.25 L248.58,125.65 L248.73,126.53 L248.88,127.08 L249.03,127.42 L249.18,127.64 L249.33,127.77 L249.48,127.86 L249.62,127.91 L249.78,127.94 L249.93,127.97 L250.08,127.98 L250.08,128.00 Z" fill="#2b2b2b"/><path d="M251.17,128.00 L251.32,125.50 L252.18,125.50 L252.33,126.44 L252.48,127.02 L252.62,127.39 L252.78,127.62 L252.93,127.76 L253.08,127.85 L253.23,127.91 L253.38,127.94 L253.53,127.96 L253.68,127.98 L253.83,127.99 L253.83,128.00 Z" fill="#2b2b2b"/><path d="M254.92,128.00 L255.07,126.25 L255.93,126.25 L256.07,126.90 L256.23,127.31 L256.38,127.57 L256.53,127.73 L256.68,127.83 L256.82,127.89 L256.98,127.93 L257.12,127.96 L257.28,127.97 L257.43,127.98 L257.57,127.99 L257.57,128.00 Z" fill="#2b2b2b"/><line x1="210.50" y1="128.00" x2="210.50" y2="131.00" stroke="#262626" stroke-width="0.9"/><line x1="214.25" y1="128.00" x2="214.25" y2="131.75" stroke="#262626" stroke-width="0.9"/><line x1="218.00" y1="128.00" x2="218.00" y2="132.50" stroke="#262626" stroke-width="0.9"/><line x1="221.75" y1="128.00" x2="221.75" y2="133.50" stroke="#262626" stroke-width="0.9"/><line x1="225.50" y1="128.00" x2="225.50" y2="134.25" stroke="#262626" stroke-width="0.9"/><line x1="229.25" y1="128.00" x2="229.25" y2="135.25" stroke="#262626" stroke-width="0.9"/><line x1="233.00" y1="128.00" x2="233.00" y2="136.00" stroke="#262626" stroke-width="0.9"/><line x1="236.75" y1="128.00" x2="236.75" y2="136.75" stroke="#262626" stroke-width="0.9"/><line x1="240.50" y1="128.00" x2="240.50" y2="137.00" stroke="#262626" stroke-width="0.9"/><line x1="244.25" y1="128.00" x2="244.25" y2="137.00" stroke="#262626" stroke-width="0.9"/><line x1="248.00" y1="128.00" x2="248.00" y2="137.00" stroke="#262626" stroke-width="0.9"/><line x1="251.75" y1="128.00" x2="251.75" y2="137.00" stroke="#262626" stroke-width="0.9"/><line x1="255.50" y1="128.00" x2="255.50" y2="137.00" stroke="#262626" stroke-width="0.9"/><line x1="259.25" y1="128.00" x2="259.25" y2="137.00" stroke="#262626" stroke-width="0.9"/><line x1="263.00" y1="128.00" x2="263.00" y2="137.00" stroke="#262626" stroke-width="0.9"/><line x1="266.75" y1="128.00" x2="266.75" y2="137.00" stroke="#262626" stroke-width="0.9"/><line x1="270.50" y1="128.00" x2="270.50" y2="137.00" stroke="#262626" stroke-width="0.9"/><line x1="274.25" y1="128.00" x2="274.25" y2="137.00" stroke="#262626" stroke-width="0.9"/><line x1="278.00" y1="128.00" x2="278.00" y2="137.00" stroke="#262626" stroke-width="0.9"/><line x1="281.75" y1="128.00" x2="281.75" y2="137.00" stroke="#262626" stroke-width="0.9"/><line x1="285.50" y1="128.00" x2="285.50" y2="137.00" stroke="#262626" stroke-width="0.9"/><line x1="289.25" y1="128.00" x2="289.25" y2="137.00" stroke="#262626" stroke-width="0.9"/><line x1="293.00" y1="128.00" x2="293.00" y2="137.00" stroke="#262626" stroke-width="0.9"/><line x1="296.75" y1="128.00" x2="296.75" y2="137.00" stroke="#262626" stroke-width="0.9"/><line x1="300.50" y1="128.00" x2="300.50" y2="137.00" stroke="#262626" stroke-width="0.9"/><line x1="304.25" y1="128.00" x2="304.25" y2="137.00" stroke="#262626" stroke-width="0.9"/><line x1="308.00" y1="128.00" x2="308.00" y2="137.00" stroke="#262626" stroke-width="0.9"/><line x1="311.75" y1="128.00" x2="311.75" y2="137.00" stroke="#262626" stroke-width="0.9"/><path d="M356.30,134.90 L356.30,134.98 L356.70,134.82 L357.10,134.81 L357.50,135.33 L357.90,135.33 L358.30,134.83 L358.70,134.93 L359.10,134.97 L359.50,134.88 L359.90,135.22 L360.30,135.39 L360.70,135.20 L361.10,134.97 L361.50,134.83 L361.90,134.86 L362.30,134.94 L362.70,134.97 L363.10,134.84 L363.50,134.81 L363.90,134.80 L364.30,134.91 L364.70,135.32 L365.10,135.38 L365.50,135.30 L365.90,134.90 L366.30,134.96 L366.70,134.95 L367.10,134.88 L367.50,134.94 L367.90,134.88 L368.30,134.81 L368.70,134.94 L369.10,134.92 L369.50,135.40 L369.90,135.33 L370.30,134.83 L370.70,134.95 L371.10,134.91 L371.50,134.82 L371.90,134.89 L372.30,134.98 L372.70,134.93 L373.10,134.89 L373.50,134.80 L373.90,135.33 L374.30,135.40 L374.70,135.37 L375.10,134.84 L375.50,134.82 L375.90,134.89 L376.30,134.86 L376.70,134.91 L377.10,134.89 L377.50,134.95 L377.90,134.98 L378.30,134.87 L378.70,135.35 L379.10,135.34 L379.50,134.83 L379.90,134.95 L380.30,134.86 L380.70,134.91 L381.10,134.90 L381.50,134.93 L381.90,134.98 L382.30,134.98 L382.70,134.81 L383.10,135.21 L383.50,135.21 L383.90,135.38 L384.30,134.94 L384.70,134.92 L385.10,134.88 L385.50,134.86 L385.90,134.92 L386.30,134.99 L386.70,134.97 L387.10,134.92 L387.50,134.86 L387.90,135.39 L388.30,135.35 L388.70,134.89 L389.10,134.83 L389.50,134.99 L389.90,134.82 L390.30,134.99 L390.70,134.83 L391.10,134.96 L391.50,134.90 L391.90,134.96 L392.30,135.29 L392.70,135.25 L393.10,135.35 L393.50,134.87 L393.90,134.86 L394.30,134.92 L394.70,134.93 L395.10,134.96 L395.50,134.92 L395.90,134.97 L396.30,134.95 L396.70,134.80 L397.10,135.23 L397.50,135.37 L397.90,135.32 L398.30,135.00 L398.70,134.85 L399.10,134.88 L399.50,134.88 L399.90,134.95 L400.30,134.85 L400.70,134.89 L401.10,134.94 L401.50,135.26 L401.90,135.25 L402.30,135.23 L402.70,134.98 L403.10,134.95 L403.50,134.96 L403.90,134.86 L404.30,134.83 L404.70,134.98 L405.10,135.00 L405.50,134.83 L405.90,135.00 L406.30,135.36 L406.70,135.31 L407.10,135.36 L407.50,134.90 L407.90,134.91 L408.30,134.91 L408.70,134.90 L409.10,134.88 L409.50,134.96 L409.90,134.94 L410.30,135.00 L410.70,135.26 L411.10,135.21 L411.50,135.28 L411.90,135.34 L412.30,134.99 L412.70,134.92 L413.10,134.80 L413.50,134.88 L413.90,134.91 L414.30,134.91 L414.70,134.87 L415.10,134.81 L415.50,135.28 L415.90,135.30 L416.30,135.25 L416.70,134.97 L417.10,134.86 L417.50,134.90 L417.90,134.84 L418.30,134.84 L418.70,134.82 L419.10,134.96 L419.50,134.86 L419.90,134.92 L420.30,135.27 L420.70,135.36 L421.10,135.37 L421.50,134.85 L421.90,134.98 L422.30,134.90 L422.70,134.97 L423.10,134.87 L423.50,134.89 L423.90,134.82 L424.30,134.86 L424.70,135.21 L425.10,135.26 L425.50,135.32 L425.90,134.82 L426.30,134.84 L426.70,134.97 L427.10,134.91 L427.50,134.92 L427.90,134.84 L428.30,134.99 L428.70,134.86 L429.10,134.82 L429.50,135.29 L429.90,135.32 L430.30,135.32 L430.70,134.83 L431.10,134.97 L431.50,134.87 L431.90,135.00 L432.30,134.88 L432.70,134.81 L433.10,134.81 L433.50,134.87 L433.90,135.34 L434.30,135.30 L434.70,135.37 L435.10,134.98 L435.50,134.97 L435.90,134.93 L436.30,134.98 L436.70,134.94 L437.10,134.82 L437.50,134.86 L437.90,134.85 L438.30,134.82 L438.70,135.38 L439.10,135.30 L439.50,135.24 L439.90,134.97 L440.30,134.87 L440.70,134.85 L441.10,134.94 L441.50,134.83 L441.90,134.99 L442.30,134.99 L442.70,134.81 L443.10,134.91 L443.50,135.21 L443.90,135.38 L444.30,134.85 L444.70,134.90 L445.10,134.95 L445.50,134.95 L445.90,134.90 L446.30,134.82 L446.70,134.86 L447.10,134.80 L447.50,134.84 L447.90,135.35 L448.30,135.32 L448.70,135.29 L449.10,134.93 L449.50,134.89 L449.90,134.87 L450.30,134.88 L450.70,134.87 L451.10,134.88 L451.50,134.89 L451.90,134.96 L452.30,134.98 L452.70,135.38 L453.10,135.29 L453.50,134.98 L453.90,134.96 L454.30,134.83 L454.70,134.97 L455.10,134.82 L455.50,134.92 L455.90,134.87 L456.30,134.95 L456.70,134.96 L457.10,135.39 L457.50,135.39 L457.90,135.28 L458.30,134.80 L458.70,134.82 L459.10,134.99 L459.50,134.86 L459.90,134.85 L460.30,134.82 L460.70,134.87 L461.10,134.87 L461.50,134.95 L461.90,135.24 L462.30,135.29 L462.70,135.38 L463.10,134.89 L463.50,134.83 L463.90,134.88 L464.30,134.85 L464.70,134.81 L465.10,134.91 L465.50,134.86 L465.90,134.96 L466.30,135.25 L466.70,135.22 L467.10,135.29 L467.50,134.90 L467.90,134.83 L468.30,134.90 L468.70,134.93 L469.10,134.96 L469.50,134.99 L469.90,134.91 L470.30,134.97 L470.70,134.82 L471.10,135.35 L471.50,135.39 L471.90,135.29 L472.30,134.85 L472.70,134.85 L473.10,134.85 L473.50,134.88 L473.90,134.88 L474.30,134.83 L474.70,134.97 L475.10,135.00 L475.50,134.83 L475.90,135.33 L476.30,135.29 L476.70,134.90 L477.10,134.90 L477.50,134.89 L477.90,134.96 L478.30,134.99 L478.70,134.86 L479.10,134.87 L479.50,134.81 L479.90,134.88 L480.30,135.26 L480.70,135.24 L481.10,135.37 L481.50,134.90 L481.90,134.85 L482.30,134.84 L482.70,134.92 L483.10,134.97 L483.50,134.98 L483.90,134.95 L484.10,134.90" fill="none" stroke="#111" stroke-width="1.2" stroke-linejoin="round"/><path d="M357.95,134.90 L358.10,118.80 L358.90,118.80 L359.05,123.64 L359.20,127.02 L359.35,129.39 L359.50,131.04 L359.65,132.20 L359.80,133.01 L359.95,133.58 L360.10,133.98 L360.25,134.25 L360.40,134.45 L360.55,134.58 L360.70,134.68 L360.85,134.74 L361.00,134.79 L361.15,134.82 L361.15,134.90 Z" fill="#2b2b2b"/><path d="M360.55,134.90 L360.70,84.20 L361.50,84.20 L361.65,99.43 L361.80,110.08 L361.95,117.53 L362.10,122.75 L362.25,126.40 L362.40,128.95 L362.55,130.74 L362.70,131.99 L362.85,132.86 L363.00,133.47 L363.15,133.90 L363.30,134.20 L363.45,134.41 L363.60,134.56 L363.75,134.66 L363.75,134.90 Z" fill="#2b2b2b"/><path d="M365.25,134.90 L365.40,94.20 L366.20,94.20 L366.35,106.42 L366.50,114.98 L366.65,120.96 L366.80,125.15 L366.95,128.08 L367.10,130.13 L367.25,131.56 L367.40,132.56 L367.55,133.26 L367.70,133.76 L367.85,134.10 L368.00,134.34 L368.15,134.51 L368.30,134.63 L368.45,134.71 L368.45,134.90 Z" fill="#2b2b2b"/><path d="M369.95,134.90 L370.10,102.30 L370.90,102.30 L371.05,112.09 L371.20,118.94 L371.35,123.73 L371.50,127.09 L371.65,129.43 L371.80,131.08 L371.95,132.22 L372.10,133.03 L372.25,133.59 L372.40,133.98 L372.55,134.26 L372.70,134.45 L372.85,134.59 L373.00,134.68 L373.15,134.75 L373.15,134.90 Z" fill="#2b2b2b"/><path d="M374.55,134.90 L374.70,109.50 L375.50,109.50 L375.65,117.13 L375.80,122.47 L375.95,126.20 L376.10,128.81 L376.25,130.64 L376.40,131.92 L376.55,132.82 L376.70,133.44 L376.85,133.88 L377.00,134.19 L377.15,134.40 L377.30,134.55 L377.45,134.66 L377.60,134.73 L377.75,134.78 L377.75,134.90 Z" fill="#2b2b2b"/><path d="M379.15,134.90 L379.30,116.20 L380.10,116.20 L380.25,121.82 L380.40,125.75 L380.55,128.49 L380.70,130.42 L380.85,131.76 L381.00,132.71 L381.15,133.37 L381.30,133.83 L381.45,134.15 L381.60,134.37 L381.75,134.53 L381.90,134.64 L382.05,134.72 L382.20,134.77 L382.35,134.81 L382.35,134.90 Z" fill="#2b2b2b"/><path d="M383.75,134.90 L383.90,121.40 L384.70,121.40 L384.85,125.45 L385.00,128.29 L385.15,130.28 L385.30,131.66 L385.45,132.64 L385.60,133.32 L385.75,133.79 L385.90,134.12 L386.05,134.36 L386.20,134.52 L386.35,134.63 L386.50,134.71 L386.65,134.77 L386.80,134.81 L386.95,134.84 L386.95,134.90 Z" fill="#2b2b2b"/><path d="M388.35,134.90 L388.50,124.90 L389.30,124.90 L389.45,127.90 L389.60,130.00 L389.75,131.47 L389.90,132.50 L390.05,133.22 L390.20,133.73 L390.35,134.08 L390.50,134.33 L390.65,134.50 L390.80,134.62 L390.95,134.70 L391.10,134.76 L391.25,134.80 L391.40,134.83 L391.55,134.85 L391.55,134.90 Z" fill="#2b2b2b"/><path d="M392.95,134.90 L393.10,127.50 L393.90,127.50 L394.05,129.72 L394.20,131.28 L394.35,132.37 L394.50,133.13 L394.65,133.66 L394.80,134.03 L394.95,134.29 L395.10,134.47 L395.25,134.60 L395.40,134.69 L395.55,134.75 L395.70,134.80 L395.85,134.83 L396.00,134.85 L396.15,134.87 L396.15,134.90 Z" fill="#2b2b2b"/><path d="M397.65,134.90 L397.80,129.50 L398.60,129.50 L398.75,131.12 L398.90,132.26 L399.05,133.05 L399.20,133.61 L399.35,133.99 L399.50,134.27 L399.65,134.46 L399.80,134.59 L399.95,134.68 L400.10,134.75 L400.25,134.79 L400.40,134.83 L400.55,134.85 L400.70,134.86 L400.85,134.87 L400.85,134.90 Z" fill="#2b2b2b"/><path d="M402.25,134.90 L402.40,130.60 L403.20,130.60 L403.35,131.89 L403.50,132.79 L403.65,133.43 L403.80,133.87 L403.95,134.18 L404.10,134.40 L404.25,134.55 L404.40,134.65 L404.55,134.73 L404.70,134.78 L404.85,134.82 L405.00,134.84 L405.15,134.86 L405.30,134.87 L405.45,134.88 L405.45,134.90 Z" fill="#2b2b2b"/><path d="M407.15,134.90 L407.30,131.50 L408.10,131.50 L408.25,132.52 L408.40,133.24 L408.55,133.74 L408.70,134.09 L408.85,134.33 L409.00,134.50 L409.15,134.62 L409.30,134.70 L409.45,134.76 L409.60,134.80 L409.75,134.83 L409.90,134.85 L410.05,134.87 L410.20,134.88 L410.35,134.88 L410.35,134.90 Z" fill="#2b2b2b"/><path d="M411.75,134.90 L411.90,132.20 L412.70,132.20 L412.85,133.01 L413.00,133.58 L413.15,133.98 L413.30,134.25 L413.45,134.45 L413.60,134.58 L413.75,134.68 L413.90,134.74 L414.05,134.79 L414.20,134.82 L414.35,134.85 L414.50,134.86 L414.65,134.87 L414.80,134.88 L414.95,134.89 L414.95,134.90 Z" fill="#2b2b2b"/><path d="M416.35,134.90 L416.50,132.60 L417.30,132.60 L417.45,133.29 L417.60,133.77 L417.75,134.11 L417.90,134.35 L418.05,134.51 L418.20,134.63 L418.35,134.71 L418.50,134.77 L418.65,134.81 L418.80,134.84 L418.95,134.85 L419.10,134.87 L419.25,134.88 L419.40,134.88 L419.55,134.89 L419.55,134.90 Z" fill="#2b2b2b"/><path d="M420.95,134.90 L421.10,132.90 L421.90,132.90 L422.05,133.50 L422.20,133.92 L422.35,134.21 L422.50,134.42 L422.65,134.56 L422.80,134.67 L422.95,134.74 L423.10,134.79 L423.25,134.82 L423.40,134.84 L423.55,134.86 L423.70,134.87 L423.85,134.88 L424.00,134.89 L424.15,134.89 L424.15,134.90 Z" fill="#2b2b2b"/><line x1="398.20" y1="134.90" x2="398.20" y2="137.00" stroke="#444" stroke-width="0.9"/><line x1="402.83" y1="134.90" x2="402.83" y2="137.30" stroke="#444" stroke-width="0.9"/><line x1="407.46" y1="134.90" x2="407.46" y2="137.60" stroke="#444" stroke-width="0.9"/><line x1="412.09" y1="134.90" x2="412.09" y2="137.90" stroke="#444" stroke-width="0.9"/><line x1="416.72" y1="134.90" x2="416.72" y2="138.20" stroke="#444" stroke-width="0.9"/><line x1="421.35" y1="134.90" x2="421.35" y2="138.50" stroke="#444" stroke-width="0.9"/><line x1="425.98" y1="134.90" x2="425.98" y2="138.80" stroke="#444" stroke-width="0.9"/><line x1="430.61" y1="134.90" x2="430.61" y2="138.80" stroke="#444" stroke-width="0.9"/><line x1="435.24" y1="134.90" x2="435.24" y2="138.80" stroke="#444" stroke-width="0.9"/><line x1="439.87" y1="134.90" x2="439.87" y2="138.80" stroke="#444" stroke-width="0.9"/><line x1="444.50" y1="134.90" x2="444.50" y2="138.80" stroke="#444" stroke-width="0.9"/><line x1="449.13" y1="134.90" x2="449.13" y2="138.80" stroke="#444" stroke-width="0.9"/><line x1="453.76" y1="134.90" x2="453.76" y2="138.80" stroke="#444" stroke-width="0.9"/><line x1="458.39" y1="134.90" x2="458.39" y2="138.80" stroke="#444" stroke-width="0.9"/><line x1="463.02" y1="134.90" x2="463.02" y2="138.80" stroke="#444" stroke-width="0.9"/><line x1="467.65" y1="134.90" x2="467.65" y2="138.80" stroke="#444" stroke-width="0.9"/><line x1="472.28" y1="134.90" x2="472.28" y2="138.80" stroke="#444" stroke-width="0.9"/><line x1="476.91" y1="134.90" x2="476.91" y2="138.80" stroke="#444" stroke-width="0.9"/><line x1="481.54" y1="134.90" x2="481.54" y2="138.80" stroke="#444" stroke-width="0.9"/><line x1="39.50" y1="5.00" x2="496.50" y2="5.00" stroke="#6a6a6a" stroke-width="1.4"/><line x1="39.50" y1="75.50" x2="496.50" y2="75.50" stroke="#3a3a3a" stroke-width="1"/><line x1="38.50" y1="146.00" x2="499.50" y2="146.00" stroke="#555" stroke-width="1"/><line x1="39.00" y1="379.50" x2="496.50" y2="379.50" stroke="#3a3a3a" stroke-width="1"/><line x1="41.50" y1="5.00" x2="41.50" y2="379.50" stroke="#3a3a3a" stroke-width="1"/><line x1="192.50" y1="5.00" x2="192.50" y2="379.50" stroke="#3a3a3a" stroke-width="1"/><line x1="344.50" y1="5.00" x2="344.50" y2="379.50" stroke="#3a3a3a" stroke-width="1"/><line x1="496.50" y1="5.00" x2="496.50" y2="379.50" stroke="#666" stroke-width="1"/><text x="38.30" y="6.98" font-size="5.5" text-anchor="end" fill="#2a2a2a" stroke="#2a2a2a" stroke-width="0.22" >0.2</text><line x1="39.30" y1="5.00" x2="41.50" y2="5.00" stroke="#3a3a3a" stroke-width="1"/><text x="38.30" y="32.58" font-size="5.5" text-anchor="end" fill="#2a2a2a" stroke="#2a2a2a" stroke-width="0.22" >0.1</text><line x1="39.30" y1="30.60" x2="41.50" y2="30.60" stroke="#3a3a3a" stroke-width="1"/><text x="38.30" y="58.18" font-size="5.5" text-anchor="end" fill="#2a2a2a" stroke="#2a2a2a" stroke-width="0.22" >0.0</text><line x1="39.30" y1="56.20" x2="41.50" y2="56.20" stroke="#3a3a3a" stroke-width="1"/><line x1="40.20" y1="17.80" x2="41.50" y2="17.80" stroke="#3a3a3a" stroke-width="1"/><line x1="40.20" y1="43.40" x2="41.50" y2="43.40" stroke="#3a3a3a" stroke-width="1"/><text x="189.30" y="11.58" font-size="5.5" text-anchor="end" fill="#2a2a2a" stroke="#2a2a2a" stroke-width="0.22" >0.2</text><line x1="190.30" y1="9.60" x2="192.50" y2="9.60" stroke="#3a3a3a" stroke-width="1"/><text x="189.30" y="35.98" font-size="5.5" text-anchor="end" fill="#2a2a2a" stroke="#2a2a2a" stroke-width="0.22" >0.1</text><line x1="190.30" y1="34.00" x2="192.50" y2="34.00" stroke="#3a3a3a" stroke-width="1"/><text x="189.30" y="59.58" font-size="5.5" text-anchor="end" fill="#2a2a2a" stroke="#2a2a2a" stroke-width="0.22" >0.0</text><line x1="190.30" y1="57.60" x2="192.50" y2="57.60" stroke="#3a3a3a" stroke-width="1"/><line x1="191.20" y1="21.80" x2="192.50" y2="21.80" stroke="#3a3a3a" stroke-width="1"/><line x1="191.20" y1="45.80" x2="192.50" y2="45.80" stroke="#3a3a3a" stroke-width="1"/><text x="341.30" y="11.18" font-size="5.5" text-anchor="end" fill="#2a2a2a" stroke="#2a2a2a" stroke-width="0.22" >0.3</text><line x1="342.30" y1="9.20" x2="344.50" y2="9.20" stroke="#3a3a3a" stroke-width="1"/><text x="341.30" y="28.68" font-size="5.5" text-anchor="end" fill="#2a2a2a" stroke="#2a2a2a" stroke-width="0.22" >0.2</text><line x1="342.30" y1="26.70" x2="344.50" y2="26.70" stroke="#3a3a3a" stroke-width="1"/><text x="341.30" y="46.18" font-size="5.5" text-anchor="end" fill="#2a2a2a" stroke="#2a2a2a" stroke-width="0.22" >0.1</text><line x1="342.30" y1="44.20" x2="344.50" y2="44.20" stroke="#3a3a3a" stroke-width="1"/><text x="341.30" y="63.78" font-size="5.5" text-anchor="end" fill="#2a2a2a" stroke="#2a2a2a" stroke-width="0.22" >0.0</text><line x1="342.30" y1="61.80" x2="344.50" y2="61.80" stroke="#3a3a3a" stroke-width="1"/><line x1="343.20" y1="17.95" x2="344.50" y2="17.95" stroke="#3a3a3a" stroke-width="1"/><line x1="343.20" y1="35.45" x2="344.50" y2="35.45" stroke="#3a3a3a" stroke-width="1"/><line x1="343.20" y1="53.00" x2="344.50" y2="53.00" stroke="#3a3a3a" stroke-width="1"/><text x="38.30" y="90.38" font-size="5.5" text-anchor="end" fill="#2a2a2a" stroke="#2a2a2a" stroke-width="0.22" >0.50</text><line x1="39.30" y1="88.40" x2="41.50" y2="88.40" stroke="#3a3a3a" stroke-width="1"/><text x="38.30" y="112.38" font-size="5.5" text-anchor="end" fill="#2a2a2a" stroke="#2a2a2a" stroke-width="0.22" >0.25</text><line x1="39.30" y1="110.40" x2="41.50" y2="110.40" stroke="#3a3a3a" stroke-width="1"/><text x="38.30" y="134.28" font-size="5.5" text-anchor="end" fill="#2a2a2a" stroke="#2a2a2a" stroke-width="0.22" >0.00</text><line x1="39.30" y1="132.30" x2="41.50" y2="132.30" stroke="#3a3a3a" stroke-width="1"/><line x1="40.20" y1="99.40" x2="41.50" y2="99.40" stroke="#3a3a3a" stroke-width="1"/><line x1="40.20" y1="121.35" x2="41.50" y2="121.35" stroke="#3a3a3a" stroke-width="1"/><text x="189.30" y="86.28" font-size="5.5" text-anchor="end" fill="#2a2a2a" stroke="#2a2a2a" stroke-width="0.22" >0.50</text><line x1="190.30" y1="84.30" x2="192.50" y2="84.30" stroke="#3a3a3a" stroke-width="1"/><text x="189.30" y="108.08" font-size="5.5" text-anchor="end" fill="#2a2a2a" stroke="#2a2a2a" stroke-width="0.22" >0.25</text><line x1="190.30" y1="106.10" x2="192.50" y2="106.10" stroke="#3a3a3a" stroke-width="1"/><text x="189.30" y="129.98" font-size="5.5" text-anchor="end" fill="#2a2a2a" stroke="#2a2a2a" stroke-width="0.22" >0.00</text><line x1="190.30" y1="128.00" x2="192.50" y2="128.00" stroke="#3a3a3a" stroke-width="1"/><line x1="191.20" y1="95.20" x2="192.50" y2="95.20" stroke="#3a3a3a" stroke-width="1"/><line x1="191.20" y1="117.05" x2="192.50" y2="117.05" stroke="#3a3a3a" stroke-width="1"/><text x="341.30" y="81.58" font-size="5.5" text-anchor="end" fill="#2a2a2a" stroke="#2a2a2a" stroke-width="0.22" >1.00</text><line x1="342.30" y1="79.60" x2="344.50" y2="79.60" stroke="#3a3a3a" stroke-width="1"/><text x="341.30" y="95.58" font-size="5.5" text-anchor="end" fill="#2a2a2a" stroke="#2a2a2a" stroke-width="0.22" >0.75</text><line x1="342.30" y1="93.60" x2="344.50" y2="93.60" stroke="#3a3a3a" stroke-width="1"/><text x="341.30" y="109.38" font-size="5.5" text-anchor="end" fill="#2a2a2a" stroke="#2a2a2a" stroke-width="0.22" >0.50</text><line x1="342.30" y1="107.40" x2="344.50" y2="107.40" stroke="#3a3a3a" stroke-width="1"/><text x="341.30" y="123.18" font-size="5.5" text-anchor="end" fill="#2a2a2a" stroke="#2a2a2a" stroke-width="0.22" >0.25</text><line x1="342.30" y1="121.20" x2="344.50" y2="121.20" stroke="#3a3a3a" stroke-width="1"/><text x="341.30" y="136.88" font-size="5.5" text-anchor="end" fill="#2a2a2a" stroke="#2a2a2a" stroke-width="0.22" >0.00</text><line x1="342.30" y1="134.90" x2="344.50" y2="134.90" stroke="#3a3a3a" stroke-width="1"/><line x1="343.20" y1="86.60" x2="344.50" y2="86.60" stroke="#3a3a3a" stroke-width="1"/><line x1="343.20" y1="100.50" x2="344.50" y2="100.50" stroke="#3a3a3a" stroke-width="1"/><line x1="343.20" y1="114.30" x2="344.50" y2="114.30" stroke="#3a3a3a" stroke-width="1"/><line x1="343.20" y1="128.05" x2="344.50" y2="128.05" stroke="#3a3a3a" stroke-width="1"/><text x="58.00" y="82.98" font-size="5.5" text-anchor="middle" fill="#2a2a2a" stroke="#2a2a2a" stroke-width="0.22" >0</text><text x="91.60" y="82.98" font-size="5.5" text-anchor="middle" fill="#2a2a2a" stroke="#2a2a2a" stroke-width="0.22" >1000</text><text x="125.20" y="82.98" font-size="5.5" text-anchor="middle" fill="#2a2a2a" stroke="#2a2a2a" stroke-width="0.22" >2000</text><text x="158.80" y="82.98" font-size="5.5" text-anchor="middle" fill="#2a2a2a" stroke="#2a2a2a" stroke-width="0.22" >3000</text><line x1="58.00" y1="75.50" x2="58.00" y2="77.70" stroke="#3a3a3a" stroke-width="1"/><line x1="74.80" y1="75.50" x2="74.80" y2="76.80" stroke="#3a3a3a" stroke-width="1"/><line x1="91.60" y1="75.50" x2="91.60" y2="77.70" stroke="#3a3a3a" stroke-width="1"/><line x1="108.40" y1="75.50" x2="108.40" y2="76.80" stroke="#3a3a3a" stroke-width="1"/><line x1="125.20" y1="75.50" x2="125.20" y2="77.70" stroke="#3a3a3a" stroke-width="1"/><line x1="142.00" y1="75.50" x2="142.00" y2="76.80" stroke="#3a3a3a" stroke-width="1"/><line x1="158.80" y1="75.50" x2="158.80" y2="77.70" stroke="#3a3a3a" stroke-width="1"/><line x1="175.60" y1="75.50" x2="175.60" y2="76.80" stroke="#3a3a3a" stroke-width="1"/><text x="206.40" y="82.98" font-size="5.5" text-anchor="middle" fill="#2a2a2a" stroke="#2a2a2a" stroke-width="0.22" >0</text><text x="234.10" y="82.98" font-size="5.5" text-anchor="middle" fill="#2a2a2a" stroke="#2a2a2a" stroke-width="0.22" >1000</text><text x="261.80" y="82.98" font-size="5.5" text-anchor="middle" fill="#2a2a2a" stroke="#2a2a2a" stroke-width="0.22" >2000</text><text x="289.50" y="82.98" font-size="5.5" text-anchor="middle" fill="#2a2a2a" stroke="#2a2a2a" stroke-width="0.22" >3000</text><text x="317.20" y="82.98" font-size="5.5" text-anchor="middle" fill="#2a2a2a" stroke="#2a2a2a" stroke-width="0.22" >4000</text><line x1="206.40" y1="75.50" x2="206.40" y2="77.70" stroke="#3a3a3a" stroke-width="1"/><line x1="220.25" y1="75.50" x2="220.25" y2="76.80" stroke="#3a3a3a" stroke-width="1"/><line x1="234.10" y1="75.50" x2="234.10" y2="77.70" stroke="#3a3a3a" stroke-width="1"/><line x1="247.95" y1="75.50" x2="247.95" y2="76.80" stroke="#3a3a3a" stroke-width="1"/><line x1="261.80" y1="75.50" x2="261.80" y2="77.70" stroke="#3a3a3a" stroke-width="1"/><line x1="275.65" y1="75.50" x2="275.65" y2="76.80" stroke="#3a3a3a" stroke-width="1"/><line x1="289.50" y1="75.50" x2="289.50" y2="77.70" stroke="#3a3a3a" stroke-width="1"/><line x1="303.35" y1="75.50" x2="303.35" y2="76.80" stroke="#3a3a3a" stroke-width="1"/><line x1="317.20" y1="75.50" x2="317.20" y2="77.70" stroke="#3a3a3a" stroke-width="1"/><line x1="331.05" y1="75.50" x2="331.05" y2="76.80" stroke="#3a3a3a" stroke-width="1"/><text x="358.60" y="82.98" font-size="5.5" text-anchor="middle" fill="#2a2a2a" stroke="#2a2a2a" stroke-width="0.22" >0</text><text x="386.15" y="82.98" font-size="5.5" text-anchor="middle" fill="#2a2a2a" stroke="#2a2a2a" stroke-width="0.22" >1000</text><text x="413.70" y="82.98" font-size="5.5" text-anchor="middle" fill="#2a2a2a" stroke="#2a2a2a" stroke-width="0.22" >2000</text><text x="441.25" y="82.98" font-size="5.5" text-anchor="middle" fill="#2a2a2a" stroke="#2a2a2a" stroke-width="0.22" >3000</text><text x="468.80" y="82.98" font-size="5.5" text-anchor="middle" fill="#2a2a2a" stroke="#2a2a2a" stroke-width="0.22" >4000</text><line x1="358.60" y1="75.50" x2="358.60" y2="77.70" stroke="#3a3a3a" stroke-width="1"/><line x1="372.38" y1="75.50" x2="372.38" y2="76.80" stroke="#3a3a3a" stroke-width="1"/><line x1="386.15" y1="75.50" x2="386.15" y2="77.70" stroke="#3a3a3a" stroke-width="1"/><line x1="399.92" y1="75.50" x2="399.92" y2="76.80" stroke="#3a3a3a" stroke-width="1"/><line x1="413.70" y1="75.50" x2="413.70" y2="77.70" stroke="#3a3a3a" stroke-width="1"/><line x1="427.47" y1="75.50" x2="427.47" y2="76.80" stroke="#3a3a3a" stroke-width="1"/><line x1="441.25" y1="75.50" x2="441.25" y2="77.70" stroke="#3a3a3a" stroke-width="1"/><line x1="455.02" y1="75.50" x2="455.02" y2="76.80" stroke="#3a3a3a" stroke-width="1"/><line x1="468.80" y1="75.50" x2="468.80" y2="77.70" stroke="#3a3a3a" stroke-width="1"/><line x1="482.57" y1="75.50" x2="482.57" y2="76.80" stroke="#3a3a3a" stroke-width="1"/><text x="51.00" y="153.18" font-size="5.5" text-anchor="middle" fill="#2a2a2a" stroke="#2a2a2a" stroke-width="0.22" >0</text><text x="69.70" y="153.18" font-size="5.5" text-anchor="middle" fill="#2a2a2a" stroke="#2a2a2a" stroke-width="0.22" >1000</text><text x="88.40" y="153.18" font-size="5.5" text-anchor="middle" fill="#2a2a2a" stroke="#2a2a2a" stroke-width="0.22" >2000</text><text x="107.10" y="153.18" font-size="5.5" text-anchor="middle" fill="#2a2a2a" stroke="#2a2a2a" stroke-width="0.22" >3000</text><text x="125.80" y="153.18" font-size="5.5" text-anchor="middle" fill="#2a2a2a" stroke="#2a2a2a" stroke-width="0.22" >4000</text><text x="144.50" y="153.18" font-size="5.5" text-anchor="middle" fill="#2a2a2a" stroke="#2a2a2a" stroke-width="0.22" >5000</text><text x="163.20" y="153.18" font-size="5.5" text-anchor="middle" fill="#2a2a2a" stroke="#2a2a2a" stroke-width="0.22" >6000</text><text x="181.90" y="153.18" font-size="5.5" text-anchor="middle" fill="#2a2a2a" stroke="#2a2a2a" stroke-width="0.22" >7000</text><line x1="51.00" y1="146.00" x2="51.00" y2="148.20" stroke="#3a3a3a" stroke-width="1"/><line x1="60.35" y1="146.00" x2="60.35" y2="147.30" stroke="#3a3a3a" stroke-width="1"/><line x1="69.70" y1="146.00" x2="69.70" y2="148.20" stroke="#3a3a3a" stroke-width="1"/><line x1="79.05" y1="146.00" x2="79.05" y2="147.30" stroke="#3a3a3a" stroke-width="1"/><line x1="88.40" y1="146.00" x2="88.40" y2="148.20" stroke="#3a3a3a" stroke-width="1"/><line x1="97.75" y1="146.00" x2="97.75" y2="147.30" stroke="#3a3a3a" stroke-width="1"/><line x1="107.10" y1="146.00" x2="107.10" y2="148.20" stroke="#3a3a3a" stroke-width="1"/><line x1="116.45" y1="146.00" x2="116.45" y2="147.30" stroke="#3a3a3a" stroke-width="1"/><line x1="125.80" y1="146.00" x2="125.80" y2="148.20" stroke="#3a3a3a" stroke-width="1"/><line x1="135.15" y1="146.00" x2="135.15" y2="147.30" stroke="#3a3a3a" stroke-width="1"/><line x1="144.50" y1="146.00" x2="144.50" y2="148.20" stroke="#3a3a3a" stroke-width="1"/><line x1="153.85" y1="146.00" x2="153.85" y2="147.30" stroke="#3a3a3a" stroke-width="1"/><line x1="163.20" y1="146.00" x2="163.20" y2="148.20" stroke="#3a3a3a" stroke-width="1"/><line x1="172.55" y1="146.00" x2="172.55" y2="147.30" stroke="#3a3a3a" stroke-width="1"/><line x1="181.90" y1="146.00" x2="181.90" y2="148.20" stroke="#3a3a3a" stroke-width="1"/><text x="202.60" y="153.18" font-size="5.5" text-anchor="middle" fill="#2a2a2a" stroke="#2a2a2a" stroke-width="0.22" >0</text><text x="221.40" y="153.18" font-size="5.5" text-anchor="middle" fill="#2a2a2a" stroke="#2a2a2a" stroke-width="0.22" >1000</text><text x="240.20" y="153.18" font-size="5.5" text-anchor="middle" fill="#2a2a2a" stroke="#2a2a2a" stroke-width="0.22" >2000</text><text x="259.00" y="153.18" font-size="5.5" text-anchor="middle" fill="#2a2a2a" stroke="#2a2a2a" stroke-width="0.22" >3000</text><text x="277.80" y="153.18" font-size="5.5" text-anchor="middle" fill="#2a2a2a" stroke="#2a2a2a" stroke-width="0.22" >4000</text><text x="296.60" y="153.18" font-size="5.5" text-anchor="middle" fill="#2a2a2a" stroke="#2a2a2a" stroke-width="0.22" >5000</text><text x="315.40" y="153.18" font-size="5.5" text-anchor="middle" fill="#2a2a2a" stroke="#2a2a2a" stroke-width="0.22" >6000</text><text x="334.20" y="153.18" font-size="5.5" text-anchor="middle" fill="#2a2a2a" stroke="#2a2a2a" stroke-width="0.22" >7000</text><line x1="202.60" y1="146.00" x2="202.60" y2="148.20" stroke="#3a3a3a" stroke-width="1"/><line x1="212.00" y1="146.00" x2="212.00" y2="147.30" stroke="#3a3a3a" stroke-width="1"/><line x1="221.40" y1="146.00" x2="221.40" y2="148.20" stroke="#3a3a3a" stroke-width="1"/><line x1="230.80" y1="146.00" x2="230.80" y2="147.30" stroke="#3a3a3a" stroke-width="1"/><line x1="240.20" y1="146.00" x2="240.20" y2="148.20" stroke="#3a3a3a" stroke-width="1"/><line x1="249.60" y1="146.00" x2="249.60" y2="147.30" stroke="#3a3a3a" stroke-width="1"/><line x1="259.00" y1="146.00" x2="259.00" y2="148.20" stroke="#3a3a3a" stroke-width="1"/><line x1="268.40" y1="146.00" x2="268.40" y2="147.30" stroke="#3a3a3a" stroke-width="1"/><line x1="277.80" y1="146.00" x2="277.80" y2="148.20" stroke="#3a3a3a" stroke-width="1"/><line x1="287.20" y1="146.00" x2="287.20" y2="147.30" stroke="#3a3a3a" stroke-width="1"/><line x1="296.60" y1="146.00" x2="296.60" y2="148.20" stroke="#3a3a3a" stroke-width="1"/><line x1="306.00" y1="146.00" x2="306.00" y2="147.30" stroke="#3a3a3a" stroke-width="1"/><line x1="315.40" y1="146.00" x2="315.40" y2="148.20" stroke="#3a3a3a" stroke-width="1"/><line x1="324.80" y1="146.00" x2="324.80" y2="147.30" stroke="#3a3a3a" stroke-width="1"/><line x1="334.20" y1="146.00" x2="334.20" y2="148.20" stroke="#3a3a3a" stroke-width="1"/><text x="355.60" y="153.18" font-size="5.5" text-anchor="middle" fill="#2a2a2a" stroke="#2a2a2a" stroke-width="0.22" >0</text><text x="379.05" y="153.18" font-size="5.5" text-anchor="middle" fill="#2a2a2a" stroke="#2a2a2a" stroke-width="0.22" >1000</text><text x="402.50" y="153.18" font-size="5.5" text-anchor="middle" fill="#2a2a2a" stroke="#2a2a2a" stroke-width="0.22" >2000</text><text x="425.95" y="153.18" font-size="5.5" text-anchor="middle" fill="#2a2a2a" stroke="#2a2a2a" stroke-width="0.22" >3000</text><text x="449.40" y="153.18" font-size="5.5" text-anchor="middle" fill="#2a2a2a" stroke="#2a2a2a" stroke-width="0.22" >4000</text><text x="472.85" y="153.18" font-size="5.5" text-anchor="middle" fill="#2a2a2a" stroke="#2a2a2a" stroke-width="0.22" >5000</text><line x1="355.60" y1="146.00" x2="355.60" y2="148.20" stroke="#3a3a3a" stroke-width="1"/><line x1="367.33" y1="146.00" x2="367.33" y2="147.30" stroke="#3a3a3a" stroke-width="1"/><line x1="379.05" y1="146.00" x2="379.05" y2="148.20" stroke="#3a3a3a" stroke-width="1"/><line x1="390.78" y1="146.00" x2="390.78" y2="147.30" stroke="#3a3a3a" stroke-width="1"/><line x1="402.50" y1="146.00" x2="402.50" y2="148.20" stroke="#3a3a3a" stroke-width="1"/><line x1="414.23" y1="146.00" x2="414.23" y2="147.30" stroke="#3a3a3a" stroke-width="1"/><line x1="425.95" y1="146.00" x2="425.95" y2="148.20" stroke="#3a3a3a" stroke-width="1"/><line x1="437.68" y1="146.00" x2="437.68" y2="147.30" stroke="#3a3a3a" stroke-width="1"/><line x1="449.40" y1="146.00" x2="449.40" y2="148.20" stroke="#3a3a3a" stroke-width="1"/><line x1="461.13" y1="146.00" x2="461.13" y2="147.30" stroke="#3a3a3a" stroke-width="1"/><line x1="472.85" y1="146.00" x2="472.85" y2="148.20" stroke="#3a3a3a" stroke-width="1"/><line x1="484.58" y1="146.00" x2="484.58" y2="147.30" stroke="#3a3a3a" stroke-width="1"/><text x="117.00" y="162.90" font-size="5.2" text-anchor="middle" fill="#444" stroke="#444" stroke-width="0.22" font-weight="bold">time (s)</text><text x="269.00" y="162.90" font-size="5.2" text-anchor="middle" fill="#444" stroke="#444" stroke-width="0.22" font-weight="bold">time (s)</text><text x="420.50" y="162.90" font-size="5.2" text-anchor="middle" fill="#444" stroke="#444" stroke-width="0.22" font-weight="bold">time (s)</text><line x1="91.70" y1="13.60" x2="107.30" y2="13.60" stroke="#777" stroke-width="1.0"/><text x="110.40" y="16.26" font-size="7.4" text-anchor="start" fill="#1a1a1a" stroke="#1a1a1a" stroke-width="0.22" >VEGFA<tspan font-size="4.4" dy="2.2">121</tspan><tspan dy="-2.2">/R-2 </tspan>D23</text><line x1="250.00" y1="14.90" x2="266.50" y2="14.90" stroke="#333" stroke-width="0.9"/><text x="268.00" y="17.56" font-size="7.4" text-anchor="start" fill="#1a1a1a" stroke="#1a1a1a" stroke-width="0.22" >VEGFC/R-2 D23</text><line x1="414.00" y1="15.60" x2="430.40" y2="15.60" stroke="#333" stroke-width="0.9"/><text x="433.40" y="18.26" font-size="7.4" text-anchor="start" fill="#1a1a1a" stroke="#1a1a1a" stroke-width="0.22" >VEGFE/R-2 D23</text><line x1="88.00" y1="92.70" x2="103.20" y2="92.70" stroke="#888" stroke-width="1.4"/><text x="106.60" y="95.36" font-size="7.4" text-anchor="start" fill="#1a1a1a" stroke="#1a1a1a" stroke-width="0.22" >VEGFA<tspan font-size="4.4" dy="2.2">121</tspan><tspan dy="-2.2">/R-2 </tspan>ECD</text><line x1="248.00" y1="94.40" x2="264.80" y2="94.40" stroke="#333" stroke-width="0.9"/><text x="266.20" y="97.06" font-size="7.4" text-anchor="start" fill="#1a1a1a" stroke="#1a1a1a" stroke-width="0.22" >VEGFC/R-2 ECD</text><line x1="413.00" y1="94.70" x2="429.40" y2="94.70" stroke="#222" stroke-width="1.2"/><text x="432.20" y="97.36" font-size="7.4" text-anchor="start" fill="#1a1a1a" stroke="#1a1a1a" stroke-width="0.22" >VEGFE/R-2 ECD</text><text x="36.50" y="366.40" font-size="6.1" text-anchor="end" fill="#2a2a2a" stroke="#2a2a2a" stroke-width="0.22" >0</text><line x1="37.50" y1="364.20" x2="41.50" y2="364.20" stroke="#3a3a3a" stroke-width="1"/><text x="501.00" y="366.40" font-size="6.1" text-anchor="start" fill="#2a2a2a" stroke="#2a2a2a" stroke-width="0.22" >0</text><line x1="496.50" y1="364.20" x2="499.50" y2="364.20" stroke="#3a3a3a" stroke-width="1"/><line x1="189.50" y1="364.20" x2="195.50" y2="364.20" stroke="#3a3a3a" stroke-width="1"/><line x1="341.50" y1="364.20" x2="347.50" y2="364.20" stroke="#3a3a3a" stroke-width="1"/><line x1="39.50" y1="348.56" x2="41.50" y2="348.56" stroke="#3a3a3a" stroke-width="1"/><line x1="496.50" y1="348.56" x2="498.00" y2="348.56" stroke="#3a3a3a" stroke-width="1"/><line x1="190.90" y1="348.56" x2="194.10" y2="348.56" stroke="#3a3a3a" stroke-width="1"/><line x1="342.90" y1="348.56" x2="346.10" y2="348.56" stroke="#3a3a3a" stroke-width="1"/><text x="36.50" y="335.13" font-size="6.1" text-anchor="end" fill="#2a2a2a" stroke="#2a2a2a" stroke-width="0.22" >5000</text><line x1="37.50" y1="332.93" x2="41.50" y2="332.93" stroke="#3a3a3a" stroke-width="1"/><text x="501.00" y="335.13" font-size="6.1" text-anchor="start" fill="#2a2a2a" stroke="#2a2a2a" stroke-width="0.22" >5000</text><line x1="496.50" y1="332.93" x2="499.50" y2="332.93" stroke="#3a3a3a" stroke-width="1"/><line x1="189.50" y1="332.93" x2="195.50" y2="332.93" stroke="#3a3a3a" stroke-width="1"/><line x1="341.50" y1="332.93" x2="347.50" y2="332.93" stroke="#3a3a3a" stroke-width="1"/><line x1="39.50" y1="317.29" x2="41.50" y2="317.29" stroke="#3a3a3a" stroke-width="1"/><line x1="496.50" y1="317.29" x2="498.00" y2="317.29" stroke="#3a3a3a" stroke-width="1"/><line x1="190.90" y1="317.29" x2="194.10" y2="317.29" stroke="#3a3a3a" stroke-width="1"/><line x1="342.90" y1="317.29" x2="346.10" y2="317.29" stroke="#3a3a3a" stroke-width="1"/><text x="36.50" y="303.86" font-size="6.1" text-anchor="end" fill="#2a2a2a" stroke="#2a2a2a" stroke-width="0.22" >10000</text><line x1="37.50" y1="301.66" x2="41.50" y2="301.66" stroke="#3a3a3a" stroke-width="1"/><text x="501.00" y="303.86" font-size="6.1" text-anchor="start" fill="#2a2a2a" stroke="#2a2a2a" stroke-width="0.22" >10000</text><line x1="496.50" y1="301.66" x2="499.50" y2="301.66" stroke="#3a3a3a" stroke-width="1"/><line x1="189.50" y1="301.66" x2="195.50" y2="301.66" stroke="#3a3a3a" stroke-width="1"/><line x1="341.50" y1="301.66" x2="347.50" y2="301.66" stroke="#3a3a3a" stroke-width="1"/><line x1="39.50" y1="286.02" x2="41.50" y2="286.02" stroke="#3a3a3a" stroke-width="1"/><line x1="496.50" y1="286.02" x2="498.00" y2="286.02" stroke="#3a3a3a" stroke-width="1"/><line x1="190.90" y1="286.02" x2="194.10" y2="286.02" stroke="#3a3a3a" stroke-width="1"/><line x1="342.90" y1="286.02" x2="346.10" y2="286.02" stroke="#3a3a3a" stroke-width="1"/><text x="36.50" y="272.59" font-size="6.1" text-anchor="end" fill="#2a2a2a" stroke="#2a2a2a" stroke-width="0.22" >15000</text><line x1="37.50" y1="270.39" x2="41.50" y2="270.39" stroke="#3a3a3a" stroke-width="1"/><text x="501.00" y="272.59" font-size="6.1" text-anchor="start" fill="#2a2a2a" stroke="#2a2a2a" stroke-width="0.22" >15000</text><line x1="496.50" y1="270.39" x2="499.50" y2="270.39" stroke="#3a3a3a" stroke-width="1"/><line x1="189.50" y1="270.39" x2="195.50" y2="270.39" stroke="#3a3a3a" stroke-width="1"/><line x1="341.50" y1="270.39" x2="347.50" y2="270.39" stroke="#3a3a3a" stroke-width="1"/><line x1="39.50" y1="254.75" x2="41.50" y2="254.75" stroke="#3a3a3a" stroke-width="1"/><line x1="496.50" y1="254.75" x2="498.00" y2="254.75" stroke="#3a3a3a" stroke-width="1"/><line x1="190.90" y1="254.75" x2="194.10" y2="254.75" stroke="#3a3a3a" stroke-width="1"/><line x1="342.90" y1="254.75" x2="346.10" y2="254.75" stroke="#3a3a3a" stroke-width="1"/><text x="36.50" y="241.32" font-size="6.1" text-anchor="end" fill="#2a2a2a" stroke="#2a2a2a" stroke-width="0.22" >20000</text><line x1="37.50" y1="239.12" x2="41.50" y2="239.12" stroke="#3a3a3a" stroke-width="1"/><text x="501.00" y="241.32" font-size="6.1" text-anchor="start" fill="#2a2a2a" stroke="#2a2a2a" stroke-width="0.22" >20000</text><line x1="496.50" y1="239.12" x2="499.50" y2="239.12" stroke="#3a3a3a" stroke-width="1"/><line x1="189.50" y1="239.12" x2="195.50" y2="239.12" stroke="#3a3a3a" stroke-width="1"/><line x1="341.50" y1="239.12" x2="347.50" y2="239.12" stroke="#3a3a3a" stroke-width="1"/><line x1="39.50" y1="223.48" x2="41.50" y2="223.48" stroke="#3a3a3a" stroke-width="1"/><line x1="496.50" y1="223.48" x2="498.00" y2="223.48" stroke="#3a3a3a" stroke-width="1"/><line x1="190.90" y1="223.48" x2="194.10" y2="223.48" stroke="#3a3a3a" stroke-width="1"/><line x1="342.90" y1="223.48" x2="346.10" y2="223.48" stroke="#3a3a3a" stroke-width="1"/><text x="36.50" y="210.05" font-size="6.1" text-anchor="end" fill="#2a2a2a" stroke="#2a2a2a" stroke-width="0.22" >25000</text><line x1="37.50" y1="207.85" x2="41.50" y2="207.85" stroke="#3a3a3a" stroke-width="1"/><text x="501.00" y="210.05" font-size="6.1" text-anchor="start" fill="#2a2a2a" stroke="#2a2a2a" stroke-width="0.22" >25000</text><line x1="496.50" y1="207.85" x2="499.50" y2="207.85" stroke="#3a3a3a" stroke-width="1"/><line x1="189.50" y1="207.85" x2="195.50" y2="207.85" stroke="#3a3a3a" stroke-width="1"/><line x1="341.50" y1="207.85" x2="347.50" y2="207.85" stroke="#3a3a3a" stroke-width="1"/><line x1="39.50" y1="192.22" x2="41.50" y2="192.22" stroke="#3a3a3a" stroke-width="1"/><line x1="496.50" y1="192.22" x2="498.00" y2="192.22" stroke="#3a3a3a" stroke-width="1"/><line x1="190.90" y1="192.22" x2="194.10" y2="192.22" stroke="#3a3a3a" stroke-width="1"/><line x1="342.90" y1="192.22" x2="346.10" y2="192.22" stroke="#3a3a3a" stroke-width="1"/><text x="36.50" y="178.78" font-size="6.1" text-anchor="end" fill="#2a2a2a" stroke="#2a2a2a" stroke-width="0.22" >30000</text><line x1="37.50" y1="176.58" x2="41.50" y2="176.58" stroke="#3a3a3a" stroke-width="1"/><text x="501.00" y="178.78" font-size="6.1" text-anchor="start" fill="#2a2a2a" stroke="#2a2a2a" stroke-width="0.22" >30000</text><line x1="496.50" y1="176.58" x2="499.50" y2="176.58" stroke="#3a3a3a" stroke-width="1"/><line x1="189.50" y1="176.58" x2="195.50" y2="176.58" stroke="#3a3a3a" stroke-width="1"/><line x1="341.50" y1="176.58" x2="347.50" y2="176.58" stroke="#3a3a3a" stroke-width="1"/><line x1="39.50" y1="160.94" x2="41.50" y2="160.94" stroke="#3a3a3a" stroke-width="1"/><line x1="496.50" y1="160.94" x2="498.00" y2="160.94" stroke="#3a3a3a" stroke-width="1"/><line x1="190.90" y1="160.94" x2="194.10" y2="160.94" stroke="#3a3a3a" stroke-width="1"/><line x1="342.90" y1="160.94" x2="346.10" y2="160.94" stroke="#3a3a3a" stroke-width="1"/><text x="36.50" y="147.51" font-size="6.1" text-anchor="end" fill="#2a2a2a" stroke="#2a2a2a" stroke-width="0.22" >35000</text><line x1="37.50" y1="145.31" x2="41.50" y2="145.31" stroke="#3a3a3a" stroke-width="1"/><text x="501.00" y="147.51" font-size="6.1" text-anchor="start" fill="#2a2a2a" stroke="#2a2a2a" stroke-width="0.22" >35000</text><line x1="496.50" y1="145.31" x2="499.50" y2="145.31" stroke="#3a3a3a" stroke-width="1"/><line x1="189.50" y1="145.31" x2="195.50" y2="145.31" stroke="#3a3a3a" stroke-width="1"/><line x1="341.50" y1="145.31" x2="347.50" y2="145.31" stroke="#3a3a3a" stroke-width="1"/><text x="58.00" y="390.20" font-size="6.1" text-anchor="middle" fill="#2a2a2a" stroke="#2a2a2a" stroke-width="0.22" >0.0</text><text x="91.65" y="390.20" font-size="6.1" text-anchor="middle" fill="#2a2a2a" stroke="#2a2a2a" stroke-width="0.22" >0.5</text><text x="125.30" y="390.20" font-size="6.1" text-anchor="middle" fill="#2a2a2a" stroke="#2a2a2a" stroke-width="0.22" >1.0</text><text x="158.95" y="390.20" font-size="6.1" text-anchor="middle" fill="#2a2a2a" stroke="#2a2a2a" stroke-width="0.22" >1.5</text><text x="192.60" y="390.20" font-size="6.1" text-anchor="middle" fill="#2a2a2a" stroke="#2a2a2a" stroke-width="0.22" >2.0</text><line x1="58.00" y1="379.50" x2="58.00" y2="382.50" stroke="#3a3a3a" stroke-width="1"/><line x1="74.83" y1="379.50" x2="74.83" y2="381.30" stroke="#3a3a3a" stroke-width="1"/><line x1="91.65" y1="379.50" x2="91.65" y2="382.50" stroke="#3a3a3a" stroke-width="1"/><line x1="108.48" y1="379.50" x2="108.48" y2="381.30" stroke="#3a3a3a" stroke-width="1"/><line x1="125.30" y1="379.50" x2="125.30" y2="382.50" stroke="#3a3a3a" stroke-width="1"/><line x1="142.12" y1="379.50" x2="142.12" y2="381.30" stroke="#3a3a3a" stroke-width="1"/><line x1="158.95" y1="379.50" x2="158.95" y2="382.50" stroke="#3a3a3a" stroke-width="1"/><line x1="175.77" y1="379.50" x2="175.77" y2="381.30" stroke="#3a3a3a" stroke-width="1"/><line x1="192.60" y1="379.50" x2="192.60" y2="382.50" stroke="#3a3a3a" stroke-width="1"/><text x="208.40" y="390.20" font-size="6.1" text-anchor="middle" fill="#2a2a2a" stroke="#2a2a2a" stroke-width="0.22" >0.0</text><text x="238.60" y="390.20" font-size="6.1" text-anchor="middle" fill="#2a2a2a" stroke="#2a2a2a" stroke-width="0.22" >0.5</text><text x="268.80" y="390.20" font-size="6.1" text-anchor="middle" fill="#2a2a2a" stroke="#2a2a2a" stroke-width="0.22" >1.0</text><text x="299.00" y="390.20" font-size="6.1" text-anchor="middle" fill="#2a2a2a" stroke="#2a2a2a" stroke-width="0.22" >1.5</text><text x="329.20" y="390.20" font-size="6.1" text-anchor="middle" fill="#2a2a2a" stroke="#2a2a2a" stroke-width="0.22" >2.0</text><line x1="193.30" y1="379.50" x2="193.30" y2="381.30" stroke="#3a3a3a" stroke-width="1"/><line x1="208.40" y1="379.50" x2="208.40" y2="382.50" stroke="#3a3a3a" stroke-width="1"/><line x1="223.50" y1="379.50" x2="223.50" y2="381.30" stroke="#3a3a3a" stroke-width="1"/><line x1="238.60" y1="379.50" x2="238.60" y2="382.50" stroke="#3a3a3a" stroke-width="1"/><line x1="253.70" y1="379.50" x2="253.70" y2="381.30" stroke="#3a3a3a" stroke-width="1"/><line x1="268.80" y1="379.50" x2="268.80" y2="382.50" stroke="#3a3a3a" stroke-width="1"/><line x1="283.90" y1="379.50" x2="283.90" y2="381.30" stroke="#3a3a3a" stroke-width="1"/><line x1="299.00" y1="379.50" x2="299.00" y2="382.50" stroke="#3a3a3a" stroke-width="1"/><line x1="314.10" y1="379.50" x2="314.10" y2="381.30" stroke="#3a3a3a" stroke-width="1"/><line x1="329.20" y1="379.50" x2="329.20" y2="382.50" stroke="#3a3a3a" stroke-width="1"/><text x="354.40" y="390.20" font-size="6.1" text-anchor="middle" fill="#2a2a2a" stroke="#2a2a2a" stroke-width="0.22" >0.0</text><text x="374.70" y="390.20" font-size="6.1" text-anchor="middle" fill="#2a2a2a" stroke="#2a2a2a" stroke-width="0.22" >0.5</text><text x="395.00" y="390.20" font-size="6.1" text-anchor="middle" fill="#2a2a2a" stroke="#2a2a2a" stroke-width="0.22" >1.0</text><text x="415.30" y="390.20" font-size="6.1" text-anchor="middle" fill="#2a2a2a" stroke="#2a2a2a" stroke-width="0.22" >1.5</text><text x="435.60" y="390.20" font-size="6.1" text-anchor="middle" fill="#2a2a2a" stroke="#2a2a2a" stroke-width="0.22" >2.0</text><text x="455.90" y="390.20" font-size="6.1" text-anchor="middle" fill="#2a2a2a" stroke="#2a2a2a" stroke-width="0.22" >2.5</text><text x="476.20" y="390.20" font-size="6.1" text-anchor="middle" fill="#2a2a2a" stroke="#2a2a2a" stroke-width="0.22" >3.0</text><text x="496.50" y="390.20" font-size="6.1" text-anchor="middle" fill="#2a2a2a" stroke="#2a2a2a" stroke-width="0.22" >3.5</text><line x1="344.25" y1="379.50" x2="344.25" y2="381.30" stroke="#3a3a3a" stroke-width="1"/><line x1="354.40" y1="379.50" x2="354.40" y2="382.50" stroke="#3a3a3a" stroke-width="1"/><line x1="364.55" y1="379.50" x2="364.55" y2="381.30" stroke="#3a3a3a" stroke-width="1"/><line x1="374.70" y1="379.50" x2="374.70" y2="382.50" stroke="#3a3a3a" stroke-width="1"/><line x1="384.85" y1="379.50" x2="384.85" y2="381.30" stroke="#3a3a3a" stroke-width="1"/><line x1="395.00" y1="379.50" x2="395.00" y2="382.50" stroke="#3a3a3a" stroke-width="1"/><line x1="405.15" y1="379.50" x2="405.15" y2="381.30" stroke="#3a3a3a" stroke-width="1"/><line x1="415.30" y1="379.50" x2="415.30" y2="382.50" stroke="#3a3a3a" stroke-width="1"/><line x1="425.45" y1="379.50" x2="425.45" y2="381.30" stroke="#3a3a3a" stroke-width="1"/><line x1="435.60" y1="379.50" x2="435.60" y2="382.50" stroke="#3a3a3a" stroke-width="1"/><line x1="445.75" y1="379.50" x2="445.75" y2="381.30" stroke="#3a3a3a" stroke-width="1"/><line x1="455.90" y1="379.50" x2="455.90" y2="382.50" stroke="#3a3a3a" stroke-width="1"/><line x1="466.05" y1="379.50" x2="466.05" y2="381.30" stroke="#3a3a3a" stroke-width="1"/><line x1="476.20" y1="379.50" x2="476.20" y2="382.50" stroke="#3a3a3a" stroke-width="1"/><line x1="486.35" y1="379.50" x2="486.35" y2="381.30" stroke="#3a3a3a" stroke-width="1"/><line x1="496.50" y1="379.50" x2="496.50" y2="382.50" stroke="#3a3a3a" stroke-width="1"/><text x="268.80" y="418.06" font-size="7.4" text-anchor="middle" fill="#222" stroke="#222" stroke-width="0.22" >Molar Ratio</text><text transform="translate(9.4,90.8) rotate(-90)" font-size="7.3" text-anchor="start" fill="#222" stroke="#222" stroke-width="0.2">µcal sec<tspan font-size="4.6" dy="-3.4">-1</tspan></text><text transform="translate(13.0,298.2) rotate(-90)" font-size="7.5" text-anchor="start" fill="#222" stroke="#222" stroke-width="0.2">cal mol<tspan font-size="5.2" dy="-3.4">-1</tspan><tspan dy="3.4"> of VEGF</tspan></text><rect x="109.30" y="180.50" width="3.4" height="3.4" fill="#000"/><rect x="109.60" y="191.60" width="2.8" height="2.8" fill="#fff" stroke="#333" stroke-width="0.7"/><text x="121.60" y="184.72" font-size="7.0" text-anchor="start" fill="#333" stroke="#333" stroke-width="0.22" >VEGFA<tspan font-size="4.1" dy="2.0">121</tspan><tspan dy="-2.0">/R-2 </tspan>D23</text><text x="121.60" y="195.52" font-size="7.0" text-anchor="start" fill="#333" stroke="#333" stroke-width="0.22" >VEGFA<tspan font-size="4.1" dy="2.0">121</tspan><tspan dy="-2.0">/R-2 </tspan>ECD</text><rect x="267.70" y="180.70" width="3.4" height="3.4" fill="#000"/><rect x="268.00" y="190.40" width="2.8" height="2.8" fill="#fff" stroke="#333" stroke-width="0.7"/><text x="279.40" y="184.92" font-size="7.0" text-anchor="start" fill="#333" stroke="#333" stroke-width="0.22" >VEGFC/R-2 D23</text><text x="279.40" y="194.32" font-size="7.0" text-anchor="start" fill="#333" stroke="#333" stroke-width="0.22" >VEGFC/R-2 ECD</text><rect x="417.80" y="181.90" width="3.4" height="3.4" fill="#000"/><rect x="418.10" y="191.60" width="2.8" height="2.8" fill="#fff" stroke="#333" stroke-width="0.7"/><text x="429.50" y="186.12" font-size="7.0" text-anchor="start" fill="#333" stroke="#333" stroke-width="0.22" >VEGFE/R-2 D23</text><text x="429.50" y="195.52" font-size="7.0" text-anchor="start" fill="#333" stroke="#333" stroke-width="0.22" >VEGFE/R-2 ECD</text><path d="M63.60,242.00 C64.40,242.23 66.83,242.57 68.40,243.40 C69.97,244.23 71.40,245.83 73.00,247.00 C74.60,248.17 76.33,248.33 78.00,250.40 C79.67,252.47 81.33,255.47 83.00,259.40 C84.67,263.33 86.33,267.57 88.00,274.00 C89.67,280.43 91.33,291.33 93.00,298.00 C94.67,304.67 96.33,307.83 98.00,314.00 C99.67,320.17 101.17,329.83 103.00,335.00 C104.83,340.17 107.17,341.90 109.00,345.00 C110.83,348.10 112.33,351.33 114.00,353.60 C115.67,355.87 117.33,357.47 119.00,358.60 C120.67,359.73 122.33,359.93 124.00,360.40 C125.67,360.87 127.33,361.13 129.00,361.40 C130.67,361.67 132.33,361.90 134.00,362.00 C135.67,362.10 137.40,362.00 139.00,362.00 C140.60,362.00 142.00,362.00 143.60,362.00 C145.20,362.00 146.93,362.00 148.60,362.00 C150.27,362.00 151.93,361.93 153.60,362.00 C155.27,362.07 157.77,362.33 158.60,362.40" fill="none" stroke="#222" stroke-width="0.8"/><path d="M63.00,282.00 C64.33,282.05 68.17,281.97 71.00,282.30 C73.83,282.63 77.67,283.13 80.00,284.00 C82.33,284.87 83.43,284.67 85.00,287.50 C86.57,290.33 87.97,294.58 89.40,301.00 C90.83,307.42 92.10,318.33 93.60,326.00 C95.10,333.67 96.90,342.00 98.40,347.00 C99.90,352.00 101.07,353.92 102.60,356.00 C104.13,358.08 105.93,358.67 107.60,359.50 C109.27,360.33 110.20,360.50 112.60,361.00 C115.00,361.50 116.83,362.17 122.00,362.50 C127.17,362.83 140.00,362.92 143.60,363.00" fill="none" stroke="#222" stroke-width="0.8"/><rect x="61.00" y="280.00" width="4" height="4" fill="#000"/><rect x="63.60" y="280.00" width="4" height="4" fill="#000"/><rect x="66.00" y="280.40" width="4" height="4" fill="#000"/><rect x="69.00" y="280.00" width="4" height="4" fill="#000"/><rect x="74.00" y="282.00" width="4" height="4" fill="#000"/><rect x="78.00" y="282.00" width="4" height="4" fill="#000"/><rect x="83.00" y="284.40" width="4" height="4" fill="#000"/><rect x="87.40" y="298.40" width="4" height="4" fill="#000"/><rect x="91.60" y="324.00" width="4" height="4" fill="#000"/><rect x="96.40" y="348.00" width="4" height="4" fill="#000"/><rect x="100.60" y="354.00" width="4" height="4" fill="#000"/><rect x="105.60" y="357.00" width="4" height="4" fill="#000"/><rect x="110.60" y="358.40" width="4" height="4" fill="#000"/><rect x="115.60" y="361.40" width="4" height="4" fill="#000"/><rect x="120.60" y="361.00" width="4" height="4" fill="#000"/><rect x="127.00" y="360.00" width="4" height="4" fill="#000"/><rect x="132.00" y="361.00" width="4" height="4" fill="#000"/><rect x="136.40" y="360.40" width="4" height="4" fill="#000"/><rect x="141.60" y="363.00" width="4" height="4" fill="#000"/><rect x="61.90" y="240.30" width="3.4" height="3.4" fill="#fff" stroke="#1a1a1a" stroke-width="0.75"/><rect x="66.70" y="241.70" width="3.4" height="3.4" fill="#fff" stroke="#1a1a1a" stroke-width="0.75"/><rect x="71.30" y="245.30" width="3.4" height="3.4" fill="#fff" stroke="#1a1a1a" stroke-width="0.75"/><rect x="76.30" y="248.70" width="3.4" height="3.4" fill="#fff" stroke="#1a1a1a" stroke-width="0.75"/><rect x="81.30" y="257.70" width="3.4" height="3.4" fill="#fff" stroke="#1a1a1a" stroke-width="0.75"/><rect x="86.30" y="272.30" width="3.4" height="3.4" fill="#fff" stroke="#1a1a1a" stroke-width="0.75"/><rect x="91.30" y="296.30" width="3.4" height="3.4" fill="#fff" stroke="#1a1a1a" stroke-width="0.75"/><rect x="96.30" y="312.30" width="3.4" height="3.4" fill="#fff" stroke="#1a1a1a" stroke-width="0.75"/><rect x="101.30" y="333.30" width="3.4" height="3.4" fill="#fff" stroke="#1a1a1a" stroke-width="0.75"/><rect x="107.30" y="343.30" width="3.4" height="3.4" fill="#fff" stroke="#1a1a1a" stroke-width="0.75"/><rect x="112.30" y="351.90" width="3.4" height="3.4" fill="#fff" stroke="#1a1a1a" stroke-width="0.75"/><rect x="117.30" y="356.90" width="3.4" height="3.4" fill="#fff" stroke="#1a1a1a" stroke-width="0.75"/><rect x="122.30" y="358.70" width="3.4" height="3.4" fill="#fff" stroke="#1a1a1a" stroke-width="0.75"/><rect x="127.30" y="359.70" width="3.4" height="3.4" fill="#fff" stroke="#1a1a1a" stroke-width="0.75"/><rect x="132.30" y="360.30" width="3.4" height="3.4" fill="#fff" stroke="#1a1a1a" stroke-width="0.75"/><rect x="137.30" y="360.30" width="3.4" height="3.4" fill="#fff" stroke="#1a1a1a" stroke-width="0.75"/><rect x="141.90" y="360.30" width="3.4" height="3.4" fill="#fff" stroke="#1a1a1a" stroke-width="0.75"/><rect x="146.90" y="360.30" width="3.4" height="3.4" fill="#fff" stroke="#1a1a1a" stroke-width="0.75"/><rect x="151.90" y="360.30" width="3.4" height="3.4" fill="#fff" stroke="#1a1a1a" stroke-width="0.75"/><rect x="156.90" y="360.70" width="3.4" height="3.4" fill="#fff" stroke="#1a1a1a" stroke-width="0.75"/><path d="M212.00,195.60 C212.60,196.00 214.37,197.27 215.60,198.00 C216.83,198.73 218.23,198.93 219.40,200.00 C220.57,201.07 221.50,202.73 222.60,204.40 C223.70,206.07 224.87,207.07 226.00,210.00 C227.13,212.93 228.30,218.23 229.40,222.00 C230.50,225.77 231.33,227.70 232.60,232.60 C233.87,237.50 235.70,243.93 237.00,251.40 C238.30,258.87 239.30,268.97 240.40,277.40 C241.50,285.83 242.40,295.17 243.60,302.00 C244.80,308.83 246.27,312.90 247.60,318.40 C248.93,323.90 250.37,330.47 251.60,335.00 C252.83,339.53 253.77,343.20 255.00,345.60 C256.23,348.00 257.43,347.33 259.00,349.40 C260.57,351.47 262.90,356.40 264.40,358.00 C265.90,359.60 266.73,358.67 268.00,359.00 C269.27,359.33 270.67,359.77 272.00,360.00 C273.33,360.23 274.67,360.33 276.00,360.40 C277.33,360.47 278.67,360.47 280.00,360.40 C281.33,360.33 282.50,360.13 284.00,360.00 C285.50,359.87 287.50,359.60 289.00,359.60 C290.50,359.60 291.67,359.90 293.00,360.00 C294.33,360.10 295.58,360.13 297.00,360.20 C298.42,360.27 300.75,360.37 301.50,360.40" fill="none" stroke="#222" stroke-width="0.8"/><path d="M211.00,222.50 C212.17,222.75 216.00,223.25 218.00,224.00 C220.00,224.75 221.33,225.33 223.00,227.00 C224.67,228.67 226.67,231.33 228.00,234.00 C229.33,236.67 230.00,239.75 231.00,243.00 C232.00,246.25 233.07,249.83 234.00,253.50 C234.93,257.17 235.70,259.92 236.60,265.00 C237.50,270.08 238.43,277.17 239.40,284.00 C240.37,290.83 241.47,299.00 242.40,306.00 C243.33,313.00 244.07,320.17 245.00,326.00 C245.93,331.83 247.07,337.17 248.00,341.00 C248.93,344.83 249.60,346.83 250.60,349.00 C251.60,351.17 252.93,352.67 254.00,354.00 C255.07,355.33 256.00,356.17 257.00,357.00 C258.00,357.83 258.50,358.33 260.00,359.00 C261.50,359.67 264.00,360.50 266.00,361.00 C268.00,361.50 271.00,361.83 272.00,362.00" fill="none" stroke="#222" stroke-width="0.8"/><rect x="209.00" y="221.00" width="4" height="4" fill="#000"/><rect x="213.40" y="221.00" width="4" height="4" fill="#000"/><rect x="218.40" y="222.00" width="4" height="4" fill="#000"/><rect x="216.60" y="225.40" width="4" height="4" fill="#000"/><rect x="221.00" y="227.00" width="4" height="4" fill="#000"/><rect x="223.60" y="227.00" width="4" height="4" fill="#000"/><rect x="226.00" y="230.60" width="4" height="4" fill="#000"/><rect x="229.00" y="242.60" width="4" height="4" fill="#000"/><rect x="232.00" y="251.40" width="4" height="4" fill="#000"/><rect x="234.60" y="258.60" width="4" height="4" fill="#000"/><rect x="237.40" y="282.00" width="4" height="4" fill="#000"/><rect x="240.40" y="303.00" width="4" height="4" fill="#000"/><rect x="243.00" y="326.00" width="4" height="4" fill="#000"/><rect x="246.00" y="337.60" width="4" height="4" fill="#000"/><rect x="248.60" y="350.40" width="4" height="4" fill="#000"/><rect x="252.00" y="351.60" width="4" height="4" fill="#000"/><rect x="255.00" y="354.00" width="4" height="4" fill="#000"/><rect x="258.00" y="356.60" width="4" height="4" fill="#000"/><rect x="261.00" y="358.40" width="4" height="4" fill="#000"/><rect x="264.00" y="355.00" width="4" height="4" fill="#000"/><rect x="267.00" y="362.40" width="4" height="4" fill="#000"/><rect x="269.60" y="360.40" width="4" height="4" fill="#000"/><rect x="210.30" y="193.90" width="3.4" height="3.4" fill="#fff" stroke="#1a1a1a" stroke-width="0.75"/><rect x="213.90" y="196.30" width="3.4" height="3.4" fill="#fff" stroke="#1a1a1a" stroke-width="0.75"/><rect x="217.70" y="198.30" width="3.4" height="3.4" fill="#fff" stroke="#1a1a1a" stroke-width="0.75"/><rect x="220.90" y="202.70" width="3.4" height="3.4" fill="#fff" stroke="#1a1a1a" stroke-width="0.75"/><rect x="224.30" y="208.30" width="3.4" height="3.4" fill="#fff" stroke="#1a1a1a" stroke-width="0.75"/><rect x="227.70" y="220.30" width="3.4" height="3.4" fill="#fff" stroke="#1a1a1a" stroke-width="0.75"/><rect x="230.90" y="230.90" width="3.4" height="3.4" fill="#fff" stroke="#1a1a1a" stroke-width="0.75"/><rect x="235.30" y="249.70" width="3.4" height="3.4" fill="#fff" stroke="#1a1a1a" stroke-width="0.75"/><rect x="238.70" y="275.70" width="3.4" height="3.4" fill="#fff" stroke="#1a1a1a" stroke-width="0.75"/><rect x="241.90" y="300.30" width="3.4" height="3.4" fill="#fff" stroke="#1a1a1a" stroke-width="0.75"/><rect x="245.90" y="316.70" width="3.4" height="3.4" fill="#fff" stroke="#1a1a1a" stroke-width="0.75"/><rect x="249.90" y="333.30" width="3.4" height="3.4" fill="#fff" stroke="#1a1a1a" stroke-width="0.75"/><rect x="253.30" y="343.90" width="3.4" height="3.4" fill="#fff" stroke="#1a1a1a" stroke-width="0.75"/><rect x="257.30" y="347.70" width="3.4" height="3.4" fill="#fff" stroke="#1a1a1a" stroke-width="0.75"/><rect x="262.70" y="356.30" width="3.4" height="3.4" fill="#fff" stroke="#1a1a1a" stroke-width="0.75"/><rect x="266.30" y="357.30" width="3.4" height="3.4" fill="#fff" stroke="#1a1a1a" stroke-width="0.75"/><rect x="270.30" y="358.30" width="3.4" height="3.4" fill="#fff" stroke="#1a1a1a" stroke-width="0.75"/><rect x="274.30" y="358.70" width="3.4" height="3.4" fill="#fff" stroke="#1a1a1a" stroke-width="0.75"/><rect x="278.30" y="358.70" width="3.4" height="3.4" fill="#fff" stroke="#1a1a1a" stroke-width="0.75"/><rect x="282.30" y="358.30" width="3.4" height="3.4" fill="#fff" stroke="#1a1a1a" stroke-width="0.75"/><rect x="287.30" y="357.90" width="3.4" height="3.4" fill="#fff" stroke="#1a1a1a" stroke-width="0.75"/><rect x="291.30" y="358.30" width="3.4" height="3.4" fill="#fff" stroke="#1a1a1a" stroke-width="0.75"/><rect x="295.30" y="358.50" width="3.4" height="3.4" fill="#fff" stroke="#1a1a1a" stroke-width="0.75"/><rect x="299.80" y="358.70" width="3.4" height="3.4" fill="#fff" stroke="#1a1a1a" stroke-width="0.75"/><path d="M355.60,171.00 C356.27,171.90 358.20,171.63 359.60,176.40 C361.00,181.17 362.53,191.07 364.00,199.60 C365.47,208.13 366.97,218.37 368.40,227.60 C369.83,236.83 371.10,246.60 372.60,255.00 C374.10,263.40 375.93,270.23 377.40,278.00 C378.87,285.77 379.90,294.37 381.40,301.60 C382.90,308.83 384.87,316.07 386.40,321.40 C387.93,326.73 389.10,329.90 390.60,333.60 C392.10,337.30 393.83,340.93 395.40,343.60 C396.97,346.27 398.47,347.93 400.00,349.60 C401.53,351.27 403.03,352.53 404.60,353.60 C406.17,354.67 407.83,355.27 409.40,356.00 C410.97,356.73 412.35,357.50 414.00,358.00 C415.65,358.50 417.47,358.73 419.30,359.00 C421.13,359.27 423.18,359.27 425.00,359.60 C426.82,359.93 428.48,360.77 430.20,361.00 C431.92,361.23 433.55,360.87 435.30,361.00 C437.05,361.13 438.92,361.73 440.70,361.80 C442.48,361.87 444.28,361.37 446.00,361.40 C447.72,361.43 449.27,361.90 451.00,362.00 C452.73,362.10 454.57,362.00 456.40,362.00 C458.23,362.00 460.23,362.10 462.00,362.00 C463.77,361.90 465.17,361.40 467.00,361.40 C468.83,361.40 471.17,362.00 473.00,362.00 C474.83,362.00 476.23,361.50 478.00,361.40 C479.77,361.30 482.67,361.40 483.60,361.40" fill="none" stroke="#222" stroke-width="0.8"/><path d="M355.80,171.00 C356.25,171.83 357.47,173.83 358.50,176.00 C359.53,178.17 360.85,180.67 362.00,184.00 C363.15,187.33 364.47,192.00 365.40,196.00 C366.33,200.00 366.90,203.67 367.60,208.00 C368.30,212.33 368.93,216.67 369.60,222.00 C370.27,227.33 370.93,232.33 371.60,240.00 C372.27,247.67 372.87,258.67 373.60,268.00 C374.33,277.33 375.20,287.00 376.00,296.00 C376.80,305.00 377.63,315.17 378.40,322.00 C379.17,328.83 379.83,333.00 380.60,337.00 C381.37,341.00 382.20,343.67 383.00,346.00 C383.80,348.33 384.57,349.58 385.40,351.00 C386.23,352.42 386.73,353.33 388.00,354.50 C389.27,355.67 391.00,356.92 393.00,358.00 C395.00,359.08 397.17,360.17 400.00,361.00 C402.83,361.83 406.57,362.50 410.00,363.00 C413.43,363.50 418.83,363.83 420.60,364.00" fill="none" stroke="#222" stroke-width="0.8"/><rect x="354.40" y="174.60" width="4" height="4" fill="#000"/><rect x="358.60" y="179.40" width="4" height="4" fill="#000"/><rect x="361.40" y="180.60" width="4" height="4" fill="#000"/><rect x="363.40" y="188.60" width="4" height="4" fill="#000"/><rect x="365.60" y="203.00" width="4" height="4" fill="#000"/><rect x="367.60" y="219.20" width="4" height="4" fill="#000"/><rect x="369.60" y="232.40" width="4" height="4" fill="#000"/><rect x="371.60" y="276.40" width="4" height="4" fill="#000"/><rect x="374.00" y="292.20" width="4" height="4" fill="#000"/><rect x="376.40" y="322.40" width="4" height="4" fill="#000"/><rect x="378.60" y="333.00" width="4" height="4" fill="#000"/><rect x="381.00" y="346.40" width="4" height="4" fill="#000"/><rect x="383.40" y="349.00" width="4" height="4" fill="#000"/><rect x="386.00" y="351.60" width="4" height="4" fill="#000"/><rect x="388.60" y="355.00" width="4" height="4" fill="#000"/><rect x="391.00" y="352.40" width="4" height="4" fill="#000"/><rect x="393.60" y="359.00" width="4" height="4" fill="#000"/><rect x="396.00" y="358.00" width="4" height="4" fill="#000"/><rect x="398.00" y="356.60" width="4" height="4" fill="#000"/><rect x="401.00" y="360.40" width="4" height="4" fill="#000"/><rect x="403.60" y="360.40" width="4" height="4" fill="#000"/><rect x="406.00" y="360.00" width="4" height="4" fill="#000"/><rect x="408.60" y="361.60" width="4" height="4" fill="#000"/><rect x="411.00" y="359.60" width="4" height="4" fill="#000"/><rect x="413.60" y="363.60" width="4" height="4" fill="#000"/><rect x="416.00" y="363.00" width="4" height="4" fill="#000"/><rect x="418.60" y="362.00" width="4" height="4" fill="#000"/><rect x="357.90" y="174.70" width="3.4" height="3.4" fill="#fff" stroke="#1a1a1a" stroke-width="0.75"/><rect x="362.30" y="197.90" width="3.4" height="3.4" fill="#fff" stroke="#1a1a1a" stroke-width="0.75"/><rect x="366.70" y="225.90" width="3.4" height="3.4" fill="#fff" stroke="#1a1a1a" stroke-width="0.75"/><rect x="370.90" y="253.30" width="3.4" height="3.4" fill="#fff" stroke="#1a1a1a" stroke-width="0.75"/><rect x="375.70" y="276.30" width="3.4" height="3.4" fill="#fff" stroke="#1a1a1a" stroke-width="0.75"/><rect x="379.70" y="299.90" width="3.4" height="3.4" fill="#fff" stroke="#1a1a1a" stroke-width="0.75"/><rect x="384.70" y="319.70" width="3.4" height="3.4" fill="#fff" stroke="#1a1a1a" stroke-width="0.75"/><rect x="388.90" y="331.90" width="3.4" height="3.4" fill="#fff" stroke="#1a1a1a" stroke-width="0.75"/><rect x="393.70" y="341.90" width="3.4" height="3.4" fill="#fff" stroke="#1a1a1a" stroke-width="0.75"/><rect x="398.30" y="347.90" width="3.4" height="3.4" fill="#fff" stroke="#1a1a1a" stroke-width="0.75"/><rect x="402.90" y="351.90" width="3.4" height="3.4" fill="#fff" stroke="#1a1a1a" stroke-width="0.75"/><rect x="407.70" y="354.30" width="3.4" height="3.4" fill="#fff" stroke="#1a1a1a" stroke-width="0.75"/><rect x="412.30" y="356.30" width="3.4" height="3.4" fill="#fff" stroke="#1a1a1a" stroke-width="0.75"/><rect x="417.60" y="357.30" width="3.4" height="3.4" fill="#fff" stroke="#1a1a1a" stroke-width="0.75"/><rect x="423.30" y="357.90" width="3.4" height="3.4" fill="#fff" stroke="#1a1a1a" stroke-width="0.75"/><rect x="428.50" y="359.30" width="3.4" height="3.4" fill="#fff" stroke="#1a1a1a" stroke-width="0.75"/><rect x="433.60" y="359.30" width="3.4" height="3.4" fill="#fff" stroke="#1a1a1a" stroke-width="0.75"/><rect x="439.00" y="360.10" width="3.4" height="3.4" fill="#fff" stroke="#1a1a1a" stroke-width="0.75"/><rect x="444.30" y="359.70" width="3.4" height="3.4" fill="#fff" stroke="#1a1a1a" stroke-width="0.75"/><rect x="449.30" y="360.30" width="3.4" height="3.4" fill="#fff" stroke="#1a1a1a" stroke-width="0.75"/><rect x="454.70" y="360.30" width="3.4" height="3.4" fill="#fff" stroke="#1a1a1a" stroke-width="0.75"/><rect x="460.30" y="360.30" width="3.4" height="3.4" fill="#fff" stroke="#1a1a1a" stroke-width="0.75"/><rect x="465.30" y="359.70" width="3.4" height="3.4" fill="#fff" stroke="#1a1a1a" stroke-width="0.75"/><rect x="471.30" y="360.30" width="3.4" height="3.4" fill="#fff" stroke="#1a1a1a" stroke-width="0.75"/><rect x="476.30" y="359.70" width="3.4" height="3.4" fill="#fff" stroke="#1a1a1a" stroke-width="0.75"/><rect x="481.90" y="359.70" width="3.4" height="3.4" fill="#fff" stroke="#1a1a1a" stroke-width="0.75"/></g>
</svg>
</body></html>
